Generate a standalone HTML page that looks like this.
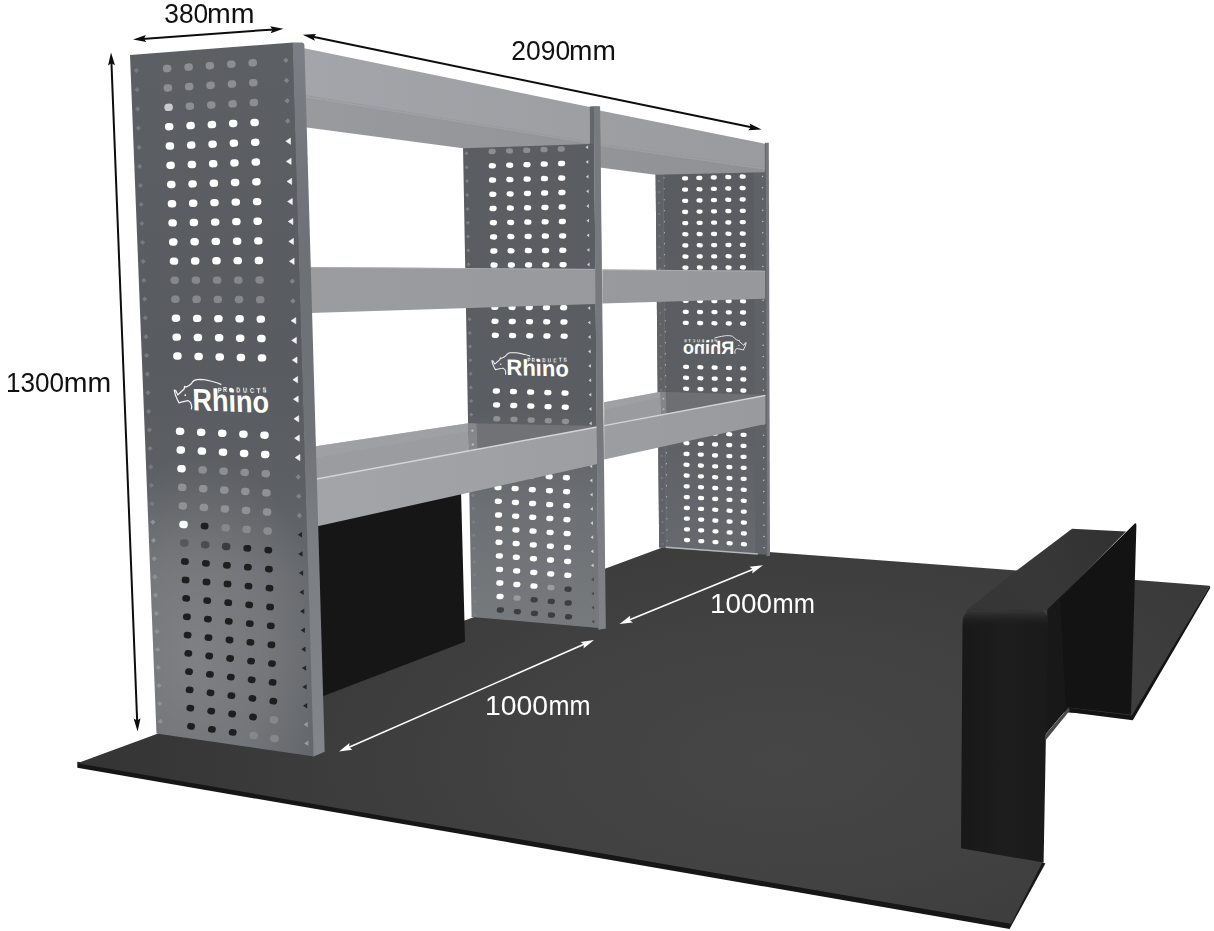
<!DOCTYPE html>
<html lang="en"><head><meta charset="utf-8"><title>Van shelving dimensions</title>
<style>
html,body{margin:0;padding:0;background:#ffffff;}
body{width:1214px;height:931px;overflow:hidden;font-family:"Liberation Sans",sans-serif;}
svg{display:block;font-family:"Liberation Sans",sans-serif;}
</style></head><body>
<svg width="1214" height="931" viewBox="0 0 1214 931">
<defs>
<filter id="fGray" x="-5%" y="-20%" width="110%" height="140%" color-interpolation-filters="sRGB"><feColorMatrix type="saturate" values="0"/></filter>
<radialGradient id="gFloor" gradientUnits="userSpaceOnUse" cx="780" cy="760" r="700" gradientTransform="translate(780 760) scale(1 0.5) translate(-780 -760)">
 <stop offset="0" stop-color="#464646"/><stop offset="0.35" stop-color="#424242"/><stop offset="0.7" stop-color="#3b3b3b"/><stop offset="1" stop-color="#343434"/>
</radialGradient>
<linearGradient id="gLeftPanel" gradientUnits="userSpaceOnUse" x1="0" y1="50" x2="0" y2="750">
 <stop offset="0" stop-color="#5c5f64"/><stop offset="0.45" stop-color="#585b5f"/><stop offset="0.62" stop-color="#5c5f63"/><stop offset="0.75" stop-color="#65686c"/><stop offset="1" stop-color="#64676b"/>
</linearGradient>
<radialGradient id="gLeftGlow" gradientUnits="userSpaceOnUse" cx="195" cy="655" r="200" gradientTransform="translate(195 655) scale(0.66 1) translate(-195 -655)">
 <stop offset="0" stop-color="#ffffff" stop-opacity="0.17"/><stop offset="0.55" stop-color="#ffffff" stop-opacity="0.10"/><stop offset="1" stop-color="#ffffff" stop-opacity="0"/>
</radialGradient>
<linearGradient id="gLeftSide" gradientUnits="userSpaceOnUse" x1="0" y1="50" x2="0" y2="750">
 <stop offset="0" stop-color="#7b7e84"/><stop offset="0.3" stop-color="#6d7075"/><stop offset="0.55" stop-color="#6f7277"/><stop offset="0.7" stop-color="#7b7e83"/><stop offset="1" stop-color="#828589"/>
</linearGradient>
<linearGradient id="gMidPanel" gradientUnits="userSpaceOnUse" x1="0" y1="148" x2="0" y2="625">
 <stop offset="0" stop-color="#5a5d61"/><stop offset="0.55" stop-color="#5a5d61"/><stop offset="0.75" stop-color="#6c6f73"/><stop offset="1" stop-color="#777a7d"/>
</linearGradient>
<linearGradient id="gRightPanel" gradientUnits="userSpaceOnUse" x1="0" y1="172" x2="0" y2="555">
 <stop offset="0" stop-color="#595c60"/><stop offset="0.6" stop-color="#5b5e62"/><stop offset="1" stop-color="#66696d"/>
</linearGradient>
<linearGradient id="gShelfTop" gradientUnits="userSpaceOnUse" x1="305" y1="0" x2="765" y2="0">
 <stop offset="0" stop-color="#a3a5aa"/><stop offset="0.6" stop-color="#9d9fa3"/><stop offset="1" stop-color="#999b9f"/>
</linearGradient>
<linearGradient id="gShelfUnder" gradientUnits="userSpaceOnUse" x1="305" y1="0" x2="765" y2="0">
 <stop offset="0" stop-color="#989a9e"/><stop offset="1" stop-color="#8f9195"/>
</linearGradient>
<linearGradient id="gLip" gradientUnits="userSpaceOnUse" x1="305" y1="0" x2="765" y2="0">
 <stop offset="0" stop-color="#a3a5a9"/><stop offset="1" stop-color="#989a9e"/>
</linearGradient>
<linearGradient id="gMid" gradientUnits="userSpaceOnUse" x1="305" y1="0" x2="765" y2="0">
 <stop offset="0" stop-color="#9a9ca0"/><stop offset="1" stop-color="#96989c"/>
</linearGradient>
<linearGradient id="gTrayL" gradientUnits="userSpaceOnUse" x1="316" y1="0" x2="597" y2="0">
 <stop offset="0" stop-color="#9b9da1"/><stop offset="0.5" stop-color="#989a9e"/><stop offset="0.56" stop-color="#7b7d81"/><stop offset="1" stop-color="#6c6e72"/>
</linearGradient>
<linearGradient id="gTrayR" gradientUnits="userSpaceOnUse" x1="604" y1="0" x2="765" y2="0">
 <stop offset="0" stop-color="#9a9ca0"/><stop offset="0.33" stop-color="#97999d"/><stop offset="0.38" stop-color="#7a7c80"/><stop offset="1" stop-color="#696b6f"/>
</linearGradient>
<linearGradient id="gBoxTop" gradientUnits="userSpaceOnUse" x1="970" y1="610" x2="1120" y2="530">
 <stop offset="0" stop-color="#363636"/><stop offset="0.5" stop-color="#373737"/><stop offset="1" stop-color="#313131"/>
</linearGradient>
<linearGradient id="gBoxBend" gradientUnits="userSpaceOnUse" x1="0" y1="609" x2="0" y2="627">
 <stop offset="0" stop-color="#3c3c3c" stop-opacity="1"/><stop offset="0.35" stop-color="#2c2c2c" stop-opacity="0.85"/><stop offset="1" stop-color="#1c1c1c" stop-opacity="0"/>
</linearGradient>
<linearGradient id="gBoxFront" gradientUnits="userSpaceOnUse" x1="962" y1="0" x2="1048" y2="0">
 <stop offset="0" stop-color="#181818"/><stop offset="0.5" stop-color="#1d1d1d"/><stop offset="1" stop-color="#1a1a1a"/>
</linearGradient>
</defs>
<rect width="1214" height="931" fill="#ffffff"/>
<polygon points="77.3,761.8 77.3,767.8 1009.6,928.9 1011.2,920.8" fill="#161616" />
<polygon points="1008.2,923.8 1009.6,928.9 1045.4,863.4 1040.3,861.4" fill="#181818" />
<polygon points="77.3,763.3 670.5,544.6 1017.0,570.5 1050.0,600.0 1044.8,736.0 1042.3,862.4 1011.2,923.8" fill="url(#gFloor)" />
<polygon points="1120.0,578.7 1209.7,585.8 1133.2,716.5 1060.0,712.0" fill="url(#gFloor)" />
<polygon points="1066.0,707.6 1131.8,715.4 1209.7,585.8 1210.3,587.8 1132.8,720.2 1064.0,711.6" fill="#141414" />
<polygon points="240.0,540.0 318.4,520.0 461.0,490.0 465.0,641.8 323.4,696.0 245.0,726.0" fill="#161616" />
<polygon points="655.6,172.5 765.6,170.0 766.8,554.6 659.2,547.6" fill="url(#gRightPanel)" />
<polygon points="655.6,172.5 662.6,172.3 666.2,547.8 659.2,547.6" fill="#5f6266" />
<polygon points="753.6,171.0 765.6,170.0 766.8,554.6 755.6,553.6" fill="#5f6266" />
<line x1="663.9" y1="177.0" x2="667.0" y2="547.0" stroke="#c4c6c8" stroke-width="1.0" stroke-dasharray="1.4 9.6"/>
<line x1="663.2" y1="173.0" x2="666.3" y2="547.0" stroke="#6d7074" stroke-width="0.8" />
<circle cx="658.9" cy="181.0" r="0.95" fill="#7b7e82"/>
<circle cx="762.6" cy="176.5" r="0.8" fill="#bfc1c3"/>
<circle cx="659.0" cy="192.0" r="0.95" fill="#7b7e82"/>
<circle cx="762.6" cy="187.8" r="0.8" fill="#bfc1c3"/>
<circle cx="659.1" cy="203.0" r="0.95" fill="#7b7e82"/>
<circle cx="762.7" cy="199.0" r="0.8" fill="#bfc1c3"/>
<circle cx="659.2" cy="214.0" r="0.95" fill="#7b7e82"/>
<circle cx="762.7" cy="210.2" r="0.8" fill="#bfc1c3"/>
<circle cx="659.3" cy="225.0" r="0.95" fill="#7b7e82"/>
<circle cx="762.8" cy="221.5" r="0.8" fill="#bfc1c3"/>
<circle cx="659.5" cy="236.0" r="0.95" fill="#7b7e82"/>
<circle cx="762.8" cy="232.8" r="0.8" fill="#bfc1c3"/>
<circle cx="659.6" cy="247.0" r="0.95" fill="#7b7e82"/>
<circle cx="762.9" cy="244.0" r="0.8" fill="#bfc1c3"/>
<circle cx="659.7" cy="258.0" r="0.95" fill="#7b7e82"/>
<circle cx="762.9" cy="255.2" r="0.8" fill="#bfc1c3"/>
<circle cx="659.8" cy="269.0" r="0.95" fill="#7b7e82"/>
<circle cx="762.9" cy="266.5" r="0.8" fill="#bfc1c3"/>
<circle cx="659.9" cy="280.0" r="0.95" fill="#7b7e82"/>
<circle cx="763.0" cy="277.8" r="0.8" fill="#bfc1c3"/>
<circle cx="660.0" cy="291.0" r="0.95" fill="#7b7e82"/>
<circle cx="763.0" cy="289.0" r="0.8" fill="#bfc1c3"/>
<circle cx="660.1" cy="302.0" r="0.95" fill="#7b7e82"/>
<circle cx="763.1" cy="300.2" r="0.8" fill="#bfc1c3"/>
<circle cx="660.2" cy="313.0" r="0.95" fill="#7b7e82"/>
<circle cx="763.1" cy="311.5" r="0.8" fill="#bfc1c3"/>
<circle cx="660.4" cy="324.0" r="0.95" fill="#7b7e82"/>
<circle cx="763.2" cy="322.8" r="0.8" fill="#bfc1c3"/>
<circle cx="660.5" cy="335.0" r="0.95" fill="#7b7e82"/>
<circle cx="763.2" cy="334.0" r="0.8" fill="#bfc1c3"/>
<circle cx="660.6" cy="346.0" r="0.95" fill="#7b7e82"/>
<circle cx="763.2" cy="345.2" r="0.8" fill="#bfc1c3"/>
<circle cx="660.7" cy="357.0" r="0.95" fill="#7b7e82"/>
<circle cx="763.3" cy="356.5" r="0.8" fill="#bfc1c3"/>
<circle cx="660.8" cy="368.0" r="0.95" fill="#7b7e82"/>
<circle cx="763.3" cy="367.8" r="0.8" fill="#bfc1c3"/>
<circle cx="660.9" cy="379.0" r="0.95" fill="#7b7e82"/>
<circle cx="763.4" cy="379.0" r="0.8" fill="#bfc1c3"/>
<circle cx="661.0" cy="390.0" r="0.95" fill="#7b7e82"/>
<circle cx="763.4" cy="390.2" r="0.8" fill="#bfc1c3"/>
<circle cx="661.1" cy="401.0" r="0.95" fill="#7b7e82"/>
<circle cx="763.4" cy="401.5" r="0.8" fill="#bfc1c3"/>
<circle cx="661.3" cy="412.0" r="0.95" fill="#7b7e82"/>
<circle cx="763.5" cy="412.8" r="0.8" fill="#bfc1c3"/>
<circle cx="661.4" cy="423.0" r="0.95" fill="#7b7e82"/>
<circle cx="763.5" cy="424.0" r="0.8" fill="#bfc1c3"/>
<circle cx="661.5" cy="434.0" r="0.95" fill="#7b7e82"/>
<circle cx="763.6" cy="435.2" r="0.8" fill="#bfc1c3"/>
<circle cx="661.6" cy="445.0" r="0.95" fill="#7b7e82"/>
<circle cx="763.6" cy="446.5" r="0.8" fill="#bfc1c3"/>
<circle cx="661.7" cy="456.0" r="0.95" fill="#7b7e82"/>
<circle cx="763.7" cy="457.8" r="0.8" fill="#bfc1c3"/>
<circle cx="661.8" cy="467.0" r="0.95" fill="#7b7e82"/>
<circle cx="763.7" cy="469.0" r="0.8" fill="#bfc1c3"/>
<circle cx="661.9" cy="478.0" r="0.95" fill="#7b7e82"/>
<circle cx="763.7" cy="480.2" r="0.8" fill="#bfc1c3"/>
<circle cx="662.0" cy="489.0" r="0.95" fill="#7b7e82"/>
<circle cx="763.8" cy="491.5" r="0.8" fill="#bfc1c3"/>
<circle cx="662.2" cy="500.0" r="0.95" fill="#7b7e82"/>
<circle cx="763.8" cy="502.8" r="0.8" fill="#bfc1c3"/>
<circle cx="662.3" cy="511.0" r="0.95" fill="#7b7e82"/>
<circle cx="763.9" cy="514.0" r="0.8" fill="#bfc1c3"/>
<circle cx="662.4" cy="522.0" r="0.95" fill="#7b7e82"/>
<circle cx="763.9" cy="525.2" r="0.8" fill="#bfc1c3"/>
<circle cx="662.5" cy="533.0" r="0.95" fill="#7b7e82"/>
<circle cx="764.0" cy="536.5" r="0.8" fill="#bfc1c3"/>
<circle cx="662.6" cy="544.0" r="0.95" fill="#7b7e82"/>
<circle cx="764.0" cy="547.8" r="0.8" fill="#bfc1c3"/>
<line x1="665.8" y1="547.3" x2="757.8" y2="554.0" stroke="#b4b6b9" stroke-width="1.6" />
<rect x="681.9" y="176.2" width="6.3" height="4.3" rx="2.1" fill="#ffffff" transform="rotate(2.0 685.0 178.4)" />
<rect x="696.2" y="175.8" width="6.3" height="4.3" rx="2.1" fill="#ffffff" transform="rotate(2.0 699.4 177.9)" />
<rect x="710.6" y="175.3" width="6.3" height="4.3" rx="2.1" fill="#ffffff" transform="rotate(2.0 713.8 177.5)" />
<rect x="725.1" y="174.9" width="6.3" height="4.3" rx="2.1" fill="#ffffff" transform="rotate(2.0 728.2 177.1)" />
<rect x="739.5" y="174.4" width="6.3" height="4.3" rx="2.1" fill="#ffffff" transform="rotate(2.0 742.6 176.6)" />
<rect x="681.9" y="187.5" width="6.3" height="4.3" rx="2.1" fill="#ffffff" transform="rotate(2.0 685.1 189.6)" />
<rect x="696.3" y="187.1" width="6.3" height="4.3" rx="2.1" fill="#ffffff" transform="rotate(2.0 699.5 189.2)" />
<rect x="710.7" y="186.7" width="6.3" height="4.3" rx="2.1" fill="#ffffff" transform="rotate(2.0 713.8 188.8)" />
<rect x="725.1" y="186.3" width="6.3" height="4.3" rx="2.1" fill="#ffffff" transform="rotate(2.0 728.2 188.4)" />
<rect x="739.5" y="185.9" width="6.3" height="4.3" rx="2.1" fill="#ffffff" transform="rotate(2.0 742.6 188.0)" />
<rect x="682.0" y="198.7" width="6.3" height="4.3" rx="2.1" fill="#ffffff" transform="rotate(2.0 685.1 200.8)" />
<rect x="696.4" y="198.3" width="6.3" height="4.3" rx="2.1" fill="#ffffff" transform="rotate(2.0 699.5 200.5)" />
<rect x="710.8" y="198.0" width="6.3" height="4.3" rx="2.1" fill="#ffffff" transform="rotate(2.0 713.9 200.1)" />
<rect x="725.1" y="197.6" width="6.3" height="4.3" rx="2.1" fill="#ffffff" transform="rotate(2.0 728.3 199.8)" />
<rect x="739.5" y="197.3" width="6.3" height="4.3" rx="2.1" fill="#ffffff" transform="rotate(2.0 742.7 199.4)" />
<rect x="682.0" y="209.8" width="6.3" height="4.3" rx="2.1" fill="#ffffff" transform="rotate(2.0 685.2 212.0)" />
<rect x="696.4" y="209.5" width="6.3" height="4.3" rx="2.1" fill="#ffffff" transform="rotate(2.0 699.6 211.7)" />
<rect x="710.8" y="209.2" width="6.3" height="4.3" rx="2.1" fill="#ffffff" transform="rotate(2.0 714.0 211.4)" />
<rect x="725.2" y="208.9" width="6.3" height="4.3" rx="2.1" fill="#ffffff" transform="rotate(2.0 728.3 211.1)" />
<rect x="739.6" y="208.7" width="6.3" height="4.3" rx="2.1" fill="#ffffff" transform="rotate(2.0 742.7 210.8)" />
<rect x="682.1" y="221.0" width="6.3" height="4.3" rx="2.1" fill="#ffffff" transform="rotate(2.0 685.2 223.1)" />
<rect x="696.5" y="220.7" width="6.3" height="4.3" rx="2.1" fill="#ffffff" transform="rotate(2.0 699.6 222.9)" />
<rect x="710.9" y="220.5" width="6.3" height="4.3" rx="2.1" fill="#ffffff" transform="rotate(2.0 714.0 222.7)" />
<rect x="725.2" y="220.3" width="6.3" height="4.3" rx="2.1" fill="#ffffff" transform="rotate(2.0 728.4 222.4)" />
<rect x="739.6" y="220.0" width="6.3" height="4.3" rx="2.1" fill="#ffffff" transform="rotate(2.0 742.8 222.2)" />
<rect x="682.2" y="232.1" width="6.3" height="4.3" rx="2.1" fill="#ffffff" transform="rotate(2.0 685.3 234.3)" />
<rect x="696.5" y="231.9" width="6.3" height="4.3" rx="2.1" fill="#ffffff" transform="rotate(2.0 699.7 234.1)" />
<rect x="710.9" y="231.8" width="6.3" height="4.3" rx="2.1" fill="#ffffff" transform="rotate(2.0 714.0 233.9)" />
<rect x="725.3" y="231.6" width="6.3" height="4.3" rx="2.1" fill="#ffffff" transform="rotate(2.0 728.4 233.7)" />
<rect x="739.6" y="231.4" width="6.3" height="4.3" rx="2.1" fill="#ffffff" transform="rotate(2.0 742.8 233.5)" />
<rect x="682.2" y="243.3" width="6.3" height="4.3" rx="2.1" fill="#ffffff" transform="rotate(2.0 685.4 245.4)" />
<rect x="696.6" y="243.1" width="6.3" height="4.3" rx="2.1" fill="#ffffff" transform="rotate(2.0 699.7 245.3)" />
<rect x="711.0" y="243.0" width="6.3" height="4.3" rx="2.1" fill="#ffffff" transform="rotate(2.0 714.1 245.1)" />
<rect x="725.3" y="242.8" width="6.3" height="4.3" rx="2.1" fill="#ffffff" transform="rotate(2.0 728.5 245.0)" />
<rect x="739.7" y="242.7" width="6.3" height="4.3" rx="2.1" fill="#ffffff" transform="rotate(2.0 742.8 244.9)" />
<rect x="682.3" y="254.4" width="6.3" height="4.3" rx="2.1" fill="#ffffff" transform="rotate(2.0 685.4 256.5)" />
<rect x="696.6" y="254.3" width="6.3" height="4.3" rx="2.1" fill="#ffffff" transform="rotate(2.0 699.8 256.4)" />
<rect x="711.0" y="254.2" width="6.3" height="4.3" rx="2.1" fill="#ffffff" transform="rotate(2.0 714.1 256.3)" />
<rect x="725.4" y="254.1" width="6.3" height="4.3" rx="2.1" fill="#ffffff" transform="rotate(2.0 728.5 256.3)" />
<rect x="739.7" y="254.0" width="6.3" height="4.3" rx="2.1" fill="#ffffff" transform="rotate(2.0 742.9 256.2)" />
<rect x="682.3" y="265.5" width="6.3" height="4.3" rx="2.1" fill="#ffffff" transform="rotate(2.0 685.5 267.6)" />
<rect x="696.7" y="265.4" width="6.3" height="4.3" rx="2.1" fill="#ffffff" transform="rotate(2.0 699.8 267.6)" />
<rect x="711.1" y="265.4" width="6.3" height="4.3" rx="2.1" fill="#ffffff" transform="rotate(2.0 714.2 267.5)" />
<rect x="725.4" y="265.4" width="6.3" height="4.3" rx="2.1" fill="#ffffff" transform="rotate(2.0 728.6 267.5)" />
<rect x="739.8" y="265.3" width="6.3" height="4.3" rx="2.1" fill="#ffffff" transform="rotate(2.0 742.9 267.5)" />
<rect x="682.4" y="276.6" width="6.3" height="4.3" rx="2.1" fill="#ffffff" transform="rotate(2.0 685.5 278.7)" />
<rect x="696.7" y="276.6" width="6.3" height="4.3" rx="2.1" fill="#ffffff" transform="rotate(2.0 699.9 278.7)" />
<rect x="711.1" y="276.6" width="6.3" height="4.3" rx="2.1" fill="#ffffff" transform="rotate(2.0 714.2 278.7)" />
<rect x="725.5" y="276.6" width="6.3" height="4.3" rx="2.1" fill="#ffffff" transform="rotate(2.0 728.6 278.7)" />
<rect x="739.8" y="276.6" width="6.3" height="4.3" rx="2.1" fill="#ffffff" transform="rotate(2.0 743.0 278.7)" />
<rect x="682.5" y="287.6" width="6.3" height="4.3" rx="2.1" fill="#ffffff" transform="rotate(2.0 685.6 289.8)" />
<rect x="696.8" y="287.7" width="6.3" height="4.3" rx="2.1" fill="#ffffff" transform="rotate(2.0 700.0 289.8)" />
<rect x="711.1" y="287.7" width="6.3" height="4.3" rx="2.1" fill="#ffffff" transform="rotate(2.0 714.3 289.9)" />
<rect x="725.5" y="287.8" width="6.3" height="4.3" rx="2.1" fill="#ffffff" transform="rotate(2.0 728.6 290.0)" />
<rect x="739.8" y="287.9" width="6.3" height="4.3" rx="2.1" fill="#ffffff" transform="rotate(2.0 743.0 290.0)" />
<rect x="682.5" y="298.7" width="6.3" height="4.3" rx="2.1" fill="#ffffff" transform="rotate(2.0 685.7 300.8)" />
<rect x="696.9" y="298.8" width="6.3" height="4.3" rx="2.1" fill="#ffffff" transform="rotate(2.0 700.0 300.9)" />
<rect x="711.2" y="298.9" width="6.3" height="4.3" rx="2.1" fill="#ffffff" transform="rotate(2.0 714.3 301.0)" />
<rect x="725.5" y="299.0" width="6.3" height="4.3" rx="2.1" fill="#ffffff" transform="rotate(2.0 728.7 301.1)" />
<rect x="739.9" y="299.1" width="6.3" height="4.3" rx="2.1" fill="#ffffff" transform="rotate(2.0 743.0 301.3)" />
<rect x="682.6" y="309.7" width="6.3" height="4.3" rx="2.1" fill="#ffffff" transform="rotate(2.0 685.7 311.9)" />
<rect x="696.9" y="309.9" width="6.3" height="4.3" rx="2.1" fill="#ffffff" transform="rotate(2.0 700.1 312.0)" />
<rect x="711.3" y="310.0" width="6.3" height="4.3" rx="2.1" fill="#ffffff" transform="rotate(2.0 714.4 312.2)" />
<rect x="725.6" y="310.2" width="6.3" height="4.3" rx="2.1" fill="#ffffff" transform="rotate(2.0 728.7 312.3)" />
<rect x="739.9" y="310.3" width="6.3" height="4.3" rx="2.1" fill="#ffffff" transform="rotate(2.0 743.1 312.5)" />
<rect x="682.6" y="320.7" width="6.3" height="4.3" rx="2.1" fill="#ffffff" transform="rotate(2.0 685.8 322.9)" />
<rect x="697.0" y="320.9" width="6.3" height="4.3" rx="2.1" fill="#ffffff" transform="rotate(2.0 700.1 323.1)" />
<rect x="711.3" y="321.1" width="6.3" height="4.3" rx="2.1" fill="#ffffff" transform="rotate(2.0 714.5 323.3)" />
<rect x="725.6" y="321.3" width="6.3" height="4.3" rx="2.1" fill="#ffffff" transform="rotate(2.0 728.8 323.5)" />
<rect x="740.0" y="321.5" width="6.3" height="4.3" rx="2.1" fill="#ffffff" transform="rotate(2.0 743.1 323.7)" />
<rect x="682.9" y="364.7" width="6.3" height="4.3" rx="2.1" fill="#ffffff" transform="rotate(2.0 686.0 366.8)" />
<rect x="697.2" y="365.1" width="6.3" height="4.3" rx="2.1" fill="#ffffff" transform="rotate(2.0 700.3 367.2)" />
<rect x="711.5" y="365.4" width="6.3" height="4.3" rx="2.1" fill="#ffffff" transform="rotate(2.0 714.6 367.6)" />
<rect x="725.8" y="365.8" width="6.3" height="4.3" rx="2.1" fill="#ffffff" transform="rotate(2.0 729.0 368.0)" />
<rect x="740.1" y="366.2" width="6.3" height="4.3" rx="2.1" fill="#ffffff" transform="rotate(2.0 743.3 368.4)" />
<rect x="682.9" y="375.6" width="6.3" height="4.3" rx="2.1" fill="#ffffff" transform="rotate(2.0 686.1 377.8)" />
<rect x="697.2" y="376.1" width="6.3" height="4.3" rx="2.1" fill="#ffffff" transform="rotate(2.0 700.4 378.2)" />
<rect x="711.6" y="376.5" width="6.3" height="4.3" rx="2.1" fill="#ffffff" transform="rotate(2.0 714.7 378.6)" />
<rect x="725.9" y="376.9" width="6.3" height="4.3" rx="2.1" fill="#ffffff" transform="rotate(2.0 729.0 379.1)" />
<rect x="740.2" y="377.3" width="6.3" height="4.3" rx="2.1" fill="#ffffff" transform="rotate(2.0 743.3 379.5)" />
<rect x="683.0" y="386.6" width="6.3" height="4.3" rx="2.1" fill="#ffffff" transform="rotate(2.0 686.2 388.7)" />
<rect x="697.3" y="387.0" width="6.3" height="4.3" rx="2.1" fill="#ffffff" transform="rotate(2.0 700.5 389.2)" />
<rect x="711.6" y="387.5" width="6.3" height="4.3" rx="2.1" fill="#ffffff" transform="rotate(2.0 714.8 389.6)" />
<rect x="725.9" y="388.0" width="6.3" height="4.3" rx="2.1" fill="#ffffff" transform="rotate(2.0 729.0 390.1)" />
<rect x="740.2" y="388.4" width="6.3" height="4.3" rx="2.1" fill="#ffffff" transform="rotate(2.0 743.3 390.6)" />
<rect x="683.1" y="397.5" width="6.3" height="4.3" rx="2.1" fill="#ffffff" transform="rotate(2.0 686.2 399.6)" />
<rect x="697.4" y="398.0" width="6.3" height="4.3" rx="2.1" fill="#ffffff" transform="rotate(2.0 700.5 400.1)" />
<rect x="711.6" y="398.5" width="6.3" height="4.3" rx="2.1" fill="#ffffff" transform="rotate(2.0 714.8 400.7)" />
<rect x="725.9" y="399.0" width="6.3" height="4.3" rx="2.1" fill="#ffffff" transform="rotate(2.0 729.1 401.2)" />
<rect x="740.2" y="399.5" width="6.3" height="4.3" rx="2.1" fill="#ffffff" transform="rotate(2.0 743.4 401.7)" />
<rect x="683.1" y="408.4" width="6.3" height="4.3" rx="2.1" fill="#ffffff" transform="rotate(2.0 686.3 410.5)" />
<rect x="697.4" y="408.9" width="6.3" height="4.3" rx="2.1" fill="#ffffff" transform="rotate(2.0 700.6 411.1)" />
<rect x="711.7" y="409.5" width="6.3" height="4.3" rx="2.1" fill="#ffffff" transform="rotate(2.0 714.8 411.6)" />
<rect x="726.0" y="410.0" width="6.3" height="4.3" rx="2.1" fill="#ffffff" transform="rotate(2.0 729.1 412.2)" />
<rect x="740.3" y="410.6" width="6.3" height="4.3" rx="2.1" fill="#ffffff" transform="rotate(2.0 743.4 412.8)" />
<rect x="683.2" y="419.2" width="6.3" height="4.3" rx="2.1" fill="#ffffff" transform="rotate(2.0 686.3 421.4)" />
<rect x="697.5" y="419.9" width="6.3" height="4.3" rx="2.1" fill="#ffffff" transform="rotate(2.0 700.6 422.0)" />
<rect x="711.8" y="420.5" width="6.3" height="4.3" rx="2.1" fill="#ffffff" transform="rotate(2.0 714.9 422.6)" />
<rect x="726.0" y="421.1" width="6.3" height="4.3" rx="2.1" fill="#ffffff" transform="rotate(2.0 729.2 423.2)" />
<rect x="740.3" y="421.7" width="6.3" height="4.3" rx="2.1" fill="#ffffff" transform="rotate(2.0 743.5 423.8)" />
<rect x="683.2" y="430.1" width="6.3" height="4.3" rx="2.1" fill="#ffffff" transform="rotate(2.0 686.4 432.3)" />
<rect x="697.5" y="430.8" width="6.3" height="4.3" rx="2.1" fill="#ffffff" transform="rotate(2.0 700.7 432.9)" />
<rect x="711.8" y="431.4" width="6.3" height="4.3" rx="2.1" fill="#ffffff" transform="rotate(2.0 715.0 433.6)" />
<rect x="726.1" y="432.1" width="6.3" height="4.3" rx="2.1" fill="#ffffff" transform="rotate(2.0 729.2 434.2)" />
<rect x="740.4" y="432.7" width="6.3" height="4.3" rx="2.1" fill="#ffffff" transform="rotate(2.0 743.5 434.9)" />
<rect x="683.3" y="441.0" width="6.3" height="4.3" rx="2.1" fill="#ffffff" transform="rotate(2.0 686.5 443.1)" />
<rect x="697.6" y="441.7" width="6.3" height="4.3" rx="2.1" fill="#ffffff" transform="rotate(2.0 700.7 443.8)" />
<rect x="711.9" y="442.3" width="6.3" height="4.3" rx="2.1" fill="#ffffff" transform="rotate(2.0 715.0 444.5)" />
<rect x="726.1" y="443.0" width="6.3" height="4.3" rx="2.1" fill="#ffffff" transform="rotate(2.0 729.3 445.2)" />
<rect x="740.4" y="443.7" width="6.3" height="4.3" rx="2.1" fill="#ffffff" transform="rotate(2.0 743.5 445.9)" />
<rect x="683.4" y="451.8" width="6.3" height="4.3" rx="2.1" fill="#ffffff" transform="rotate(2.0 686.5 454.0)" />
<rect x="697.6" y="452.5" width="6.3" height="4.3" rx="2.1" fill="#ffffff" transform="rotate(2.0 700.8 454.7)" />
<rect x="711.9" y="453.3" width="6.3" height="4.3" rx="2.1" fill="#ffffff" transform="rotate(2.0 715.0 455.4)" />
<rect x="726.2" y="454.0" width="6.3" height="4.3" rx="2.1" fill="#ffffff" transform="rotate(2.0 729.3 456.1)" />
<rect x="740.4" y="454.7" width="6.3" height="4.3" rx="2.1" fill="#ffffff" transform="rotate(2.0 743.6 456.9)" />
<rect x="683.4" y="462.6" width="6.3" height="4.3" rx="2.1" fill="#ffffff" transform="rotate(2.0 686.6 464.8)" />
<rect x="697.7" y="463.4" width="6.3" height="4.3" rx="2.1" fill="#ffffff" transform="rotate(2.0 700.8 465.5)" />
<rect x="712.0" y="464.2" width="6.3" height="4.3" rx="2.1" fill="#ffffff" transform="rotate(2.0 715.1 466.3)" />
<rect x="726.2" y="464.9" width="6.3" height="4.3" rx="2.1" fill="#ffffff" transform="rotate(2.0 729.4 467.1)" />
<rect x="740.5" y="465.7" width="6.3" height="4.3" rx="2.1" fill="#ffffff" transform="rotate(2.0 743.6 467.9)" />
<rect x="683.5" y="473.4" width="6.3" height="4.3" rx="2.1" fill="#ffffff" transform="rotate(2.0 686.6 475.6)" />
<rect x="697.7" y="474.2" width="6.3" height="4.3" rx="2.1" fill="#ffffff" transform="rotate(2.0 700.9 476.4)" />
<rect x="712.0" y="475.1" width="6.3" height="4.3" rx="2.1" fill="#ffffff" transform="rotate(2.0 715.1 477.2)" />
<rect x="726.3" y="475.9" width="6.3" height="4.3" rx="2.1" fill="#ffffff" transform="rotate(2.0 729.4 478.0)" />
<rect x="740.5" y="476.7" width="6.3" height="4.3" rx="2.1" fill="#ffffff" transform="rotate(2.0 743.7 478.8)" />
<rect x="683.5" y="484.2" width="6.3" height="4.3" rx="2.1" fill="#ffffff" transform="rotate(2.0 686.7 486.4)" />
<rect x="697.8" y="485.1" width="6.3" height="4.3" rx="2.1" fill="#ffffff" transform="rotate(2.0 700.9 487.2)" />
<rect x="712.1" y="485.9" width="6.3" height="4.3" rx="2.1" fill="#ffffff" transform="rotate(2.0 715.2 488.1)" />
<rect x="726.3" y="486.8" width="6.3" height="4.3" rx="2.1" fill="#ffffff" transform="rotate(2.0 729.5 488.9)" />
<rect x="740.6" y="487.6" width="6.3" height="4.3" rx="2.1" fill="#ffffff" transform="rotate(2.0 743.7 489.8)" />
<rect x="683.6" y="495.0" width="6.3" height="4.3" rx="2.1" fill="#ffffff" transform="rotate(2.0 686.8 497.1)" />
<rect x="697.9" y="495.9" width="6.3" height="4.3" rx="2.1" fill="#ffffff" transform="rotate(2.0 701.0 498.0)" />
<rect x="712.1" y="496.8" width="6.3" height="4.3" rx="2.1" fill="#ffffff" transform="rotate(2.0 715.2 498.9)" />
<rect x="726.3" y="497.7" width="6.3" height="4.3" rx="2.1" fill="#ffffff" transform="rotate(2.0 729.5 499.8)" />
<rect x="740.6" y="498.6" width="6.3" height="4.3" rx="2.1" fill="#ffffff" transform="rotate(2.0 743.7 500.7)" />
<rect x="683.7" y="505.8" width="6.3" height="4.3" rx="2.1" fill="#ffffff" transform="rotate(2.0 686.8 507.9)" />
<rect x="697.9" y="506.7" width="6.3" height="4.3" rx="2.1" fill="#ffffff" transform="rotate(2.0 701.1 508.8)" />
<rect x="712.1" y="507.6" width="6.3" height="4.3" rx="2.1" fill="#ffffff" transform="rotate(2.0 715.3 509.8)" />
<rect x="726.4" y="508.6" width="6.3" height="4.3" rx="2.1" fill="#ffffff" transform="rotate(2.0 729.5 510.7)" />
<rect x="740.6" y="509.5" width="6.3" height="4.3" rx="2.1" fill="#ffffff" transform="rotate(2.0 743.8 511.6)" />
<rect x="683.7" y="516.5" width="6.3" height="4.3" rx="2.1" fill="#ffffff" transform="rotate(2.0 686.9 518.7)" />
<rect x="698.0" y="517.5" width="6.3" height="4.3" rx="2.1" fill="#ffffff" transform="rotate(2.0 701.1 519.6)" />
<rect x="712.2" y="518.4" width="6.3" height="4.3" rx="2.1" fill="#ffffff" transform="rotate(2.0 715.3 520.6)" />
<rect x="726.4" y="519.4" width="6.3" height="4.3" rx="2.1" fill="#ffffff" transform="rotate(2.0 729.6 521.6)" />
<rect x="740.7" y="520.4" width="6.3" height="4.3" rx="2.1" fill="#ffffff" transform="rotate(2.0 743.8 522.5)" />
<rect x="683.8" y="527.2" width="6.3" height="4.3" rx="2.1" fill="#ffffff" transform="rotate(2.0 686.9 529.4)" />
<rect x="698.0" y="528.2" width="6.3" height="4.3" rx="2.1" fill="#ffffff" transform="rotate(2.0 701.2 530.4)" />
<rect x="712.3" y="529.2" width="6.3" height="4.3" rx="2.1" fill="#ffffff" transform="rotate(2.0 715.4 531.4)" />
<rect x="726.5" y="530.3" width="6.3" height="4.3" rx="2.1" fill="#ffffff" transform="rotate(2.0 729.6 532.4)" />
<rect x="740.7" y="531.3" width="6.3" height="4.3" rx="2.1" fill="#ffffff" transform="rotate(2.0 743.9 533.4)" />
<rect x="683.9" y="537.9" width="6.3" height="4.3" rx="2.1" fill="#ffffff" transform="rotate(2.0 687.0 540.1)" />
<rect x="698.1" y="539.0" width="6.3" height="4.3" rx="2.1" fill="#ffffff" transform="rotate(2.0 701.2 541.1)" />
<rect x="712.3" y="540.0" width="6.3" height="4.3" rx="2.1" fill="#ffffff" transform="rotate(2.0 715.5 542.2)" />
<rect x="726.5" y="541.1" width="6.3" height="4.3" rx="2.1" fill="#ffffff" transform="rotate(2.0 729.7 543.2)" />
<rect x="740.8" y="542.1" width="6.3" height="4.3" rx="2.1" fill="#ffffff" transform="rotate(2.0 743.9 544.3)" />
<polygon points="463.0,146.0 594.2,143.0 598.8,627.9 471.6,616.9" fill="url(#gMidPanel)" />
<rect x="488.5" y="148.8" width="7.3" height="5.4" rx="2.6" fill="#8b8d91" transform="rotate(3.0 492.1 151.5)" />
<rect x="505.8" y="148.2" width="7.3" height="5.4" rx="2.6" fill="#8b8d91" transform="rotate(3.0 509.4 150.9)" />
<rect x="523.1" y="147.6" width="7.3" height="5.4" rx="2.6" fill="#8b8d91" transform="rotate(3.0 526.7 150.2)" />
<rect x="540.4" y="146.9" width="7.3" height="5.4" rx="2.6" fill="#8b8d91" transform="rotate(3.0 544.0 149.6)" />
<rect x="557.6" y="146.3" width="7.3" height="5.4" rx="2.6" fill="#8b8d91" transform="rotate(3.0 561.3 149.0)" />
<rect x="488.7" y="163.1" width="7.3" height="5.4" rx="2.6" fill="#ffffff" transform="rotate(3.0 492.3 165.8)" />
<rect x="506.0" y="162.5" width="7.3" height="5.4" rx="2.6" fill="#ffffff" transform="rotate(3.0 509.6 165.2)" />
<rect x="523.3" y="162.0" width="7.3" height="5.4" rx="2.6" fill="#ffffff" transform="rotate(3.0 526.9 164.7)" />
<rect x="540.6" y="161.4" width="7.3" height="5.4" rx="2.6" fill="#ffffff" transform="rotate(3.0 544.2 164.1)" />
<rect x="557.9" y="160.8" width="7.3" height="5.4" rx="2.6" fill="#ffffff" transform="rotate(3.0 561.5 163.5)" />
<rect x="488.9" y="177.4" width="7.3" height="5.4" rx="2.6" fill="#ffffff" transform="rotate(3.0 492.6 180.1)" />
<rect x="506.2" y="176.9" width="7.3" height="5.4" rx="2.6" fill="#ffffff" transform="rotate(3.0 509.9 179.6)" />
<rect x="523.5" y="176.4" width="7.3" height="5.4" rx="2.6" fill="#ffffff" transform="rotate(3.0 527.2 179.1)" />
<rect x="540.8" y="175.9" width="7.3" height="5.4" rx="2.6" fill="#ffffff" transform="rotate(3.0 544.5 178.6)" />
<rect x="558.1" y="175.4" width="7.3" height="5.4" rx="2.6" fill="#ffffff" transform="rotate(3.0 561.7 178.1)" />
<rect x="489.2" y="191.6" width="7.3" height="5.4" rx="2.6" fill="#ffffff" transform="rotate(3.0 492.8 194.3)" />
<rect x="506.5" y="191.2" width="7.3" height="5.4" rx="2.6" fill="#ffffff" transform="rotate(3.0 510.1 193.9)" />
<rect x="523.8" y="190.7" width="7.3" height="5.4" rx="2.6" fill="#ffffff" transform="rotate(3.0 527.4 193.4)" />
<rect x="541.0" y="190.3" width="7.3" height="5.4" rx="2.6" fill="#ffffff" transform="rotate(3.0 544.7 193.0)" />
<rect x="558.3" y="189.8" width="7.3" height="5.4" rx="2.6" fill="#ffffff" transform="rotate(3.0 562.0 192.5)" />
<rect x="489.4" y="205.8" width="7.3" height="5.4" rx="2.6" fill="#ffffff" transform="rotate(3.0 493.1 208.5)" />
<rect x="506.7" y="205.4" width="7.3" height="5.4" rx="2.6" fill="#ffffff" transform="rotate(3.0 510.4 208.1)" />
<rect x="524.0" y="205.1" width="7.3" height="5.4" rx="2.6" fill="#ffffff" transform="rotate(3.0 527.6 207.8)" />
<rect x="541.3" y="204.7" width="7.3" height="5.4" rx="2.6" fill="#ffffff" transform="rotate(3.0 544.9 207.4)" />
<rect x="558.5" y="204.3" width="7.3" height="5.4" rx="2.6" fill="#ffffff" transform="rotate(3.0 562.2 207.0)" />
<rect x="489.7" y="220.0" width="7.3" height="5.4" rx="2.6" fill="#ffffff" transform="rotate(3.0 493.3 222.7)" />
<rect x="507.0" y="219.7" width="7.3" height="5.4" rx="2.6" fill="#ffffff" transform="rotate(3.0 510.6 222.4)" />
<rect x="524.2" y="219.4" width="7.3" height="5.4" rx="2.6" fill="#ffffff" transform="rotate(3.0 527.9 222.1)" />
<rect x="541.5" y="219.1" width="7.3" height="5.4" rx="2.6" fill="#ffffff" transform="rotate(3.0 545.1 221.8)" />
<rect x="558.7" y="218.8" width="7.3" height="5.4" rx="2.6" fill="#ffffff" transform="rotate(3.0 562.4 221.5)" />
<rect x="489.9" y="234.2" width="7.3" height="5.4" rx="2.6" fill="#ffffff" transform="rotate(3.0 493.6 236.9)" />
<rect x="507.2" y="233.9" width="7.3" height="5.4" rx="2.6" fill="#ffffff" transform="rotate(3.0 510.8 236.6)" />
<rect x="524.5" y="233.7" width="7.3" height="5.4" rx="2.6" fill="#ffffff" transform="rotate(3.0 528.1 236.4)" />
<rect x="541.7" y="233.4" width="7.3" height="5.4" rx="2.6" fill="#ffffff" transform="rotate(3.0 545.4 236.1)" />
<rect x="559.0" y="233.2" width="7.3" height="5.4" rx="2.6" fill="#ffffff" transform="rotate(3.0 562.6 235.9)" />
<rect x="490.2" y="248.3" width="7.3" height="5.4" rx="2.6" fill="#ffffff" transform="rotate(3.0 493.8 251.0)" />
<rect x="507.4" y="248.1" width="7.3" height="5.4" rx="2.6" fill="#ffffff" transform="rotate(3.0 511.1 250.8)" />
<rect x="524.7" y="247.9" width="7.3" height="5.4" rx="2.6" fill="#ffffff" transform="rotate(3.0 528.3 250.6)" />
<rect x="541.9" y="247.8" width="7.3" height="5.4" rx="2.6" fill="#ffffff" transform="rotate(3.0 545.6 250.5)" />
<rect x="559.2" y="247.6" width="7.3" height="5.4" rx="2.6" fill="#ffffff" transform="rotate(3.0 562.8 250.3)" />
<rect x="490.4" y="262.4" width="7.3" height="5.4" rx="2.6" fill="#ffffff" transform="rotate(3.0 494.1 265.1)" />
<rect x="507.7" y="262.3" width="7.3" height="5.4" rx="2.6" fill="#ffffff" transform="rotate(3.0 511.3 265.0)" />
<rect x="524.9" y="262.2" width="7.3" height="5.4" rx="2.6" fill="#ffffff" transform="rotate(3.0 528.6 264.9)" />
<rect x="542.2" y="262.1" width="7.3" height="5.4" rx="2.6" fill="#ffffff" transform="rotate(3.0 545.8 264.8)" />
<rect x="559.4" y="262.0" width="7.3" height="5.4" rx="2.6" fill="#ffffff" transform="rotate(3.0 563.0 264.7)" />
<rect x="490.7" y="276.5" width="7.3" height="5.4" rx="2.6" fill="#ffffff" transform="rotate(3.0 494.3 279.2)" />
<rect x="507.9" y="276.5" width="7.3" height="5.4" rx="2.6" fill="#ffffff" transform="rotate(3.0 511.6 279.2)" />
<rect x="525.1" y="276.4" width="7.3" height="5.4" rx="2.6" fill="#ffffff" transform="rotate(3.0 528.8 279.1)" />
<rect x="542.4" y="276.4" width="7.3" height="5.4" rx="2.6" fill="#ffffff" transform="rotate(3.0 546.0 279.1)" />
<rect x="559.6" y="276.3" width="7.3" height="5.4" rx="2.6" fill="#ffffff" transform="rotate(3.0 563.3 279.0)" />
<rect x="490.9" y="290.6" width="7.3" height="5.4" rx="2.6" fill="#ffffff" transform="rotate(3.0 494.6 293.3)" />
<rect x="508.2" y="290.6" width="7.3" height="5.4" rx="2.6" fill="#ffffff" transform="rotate(3.0 511.8 293.3)" />
<rect x="525.4" y="290.6" width="7.3" height="5.4" rx="2.6" fill="#ffffff" transform="rotate(3.0 529.0 293.3)" />
<rect x="542.6" y="290.6" width="7.3" height="5.4" rx="2.6" fill="#ffffff" transform="rotate(3.0 546.3 293.3)" />
<rect x="559.8" y="290.7" width="7.3" height="5.4" rx="2.6" fill="#ffffff" transform="rotate(3.0 563.5 293.4)" />
<rect x="491.2" y="304.6" width="7.3" height="5.4" rx="2.6" fill="#ffffff" transform="rotate(3.0 494.8 307.3)" />
<rect x="508.4" y="304.7" width="7.3" height="5.4" rx="2.6" fill="#ffffff" transform="rotate(3.0 512.0 307.4)" />
<rect x="525.6" y="304.8" width="7.3" height="5.4" rx="2.6" fill="#ffffff" transform="rotate(3.0 529.3 307.5)" />
<rect x="542.8" y="304.9" width="7.3" height="5.4" rx="2.6" fill="#ffffff" transform="rotate(3.0 546.5 307.6)" />
<rect x="560.0" y="305.0" width="7.3" height="5.4" rx="2.6" fill="#ffffff" transform="rotate(3.0 563.7 307.7)" />
<rect x="491.4" y="318.6" width="7.3" height="5.4" rx="2.6" fill="#ffffff" transform="rotate(3.0 495.1 321.3)" />
<rect x="508.6" y="318.8" width="7.3" height="5.4" rx="2.6" fill="#ffffff" transform="rotate(3.0 512.3 321.5)" />
<rect x="525.9" y="319.0" width="7.3" height="5.4" rx="2.6" fill="#ffffff" transform="rotate(3.0 529.5 321.7)" />
<rect x="543.1" y="319.1" width="7.3" height="5.4" rx="2.6" fill="#ffffff" transform="rotate(3.0 546.7 321.8)" />
<rect x="560.3" y="319.3" width="7.3" height="5.4" rx="2.6" fill="#ffffff" transform="rotate(3.0 563.9 322.0)" />
<rect x="491.7" y="332.6" width="7.3" height="5.4" rx="2.6" fill="#ffffff" transform="rotate(3.0 495.3 335.3)" />
<rect x="508.9" y="332.9" width="7.3" height="5.4" rx="2.6" fill="#ffffff" transform="rotate(3.0 512.5 335.6)" />
<rect x="526.1" y="333.1" width="7.3" height="5.4" rx="2.6" fill="#ffffff" transform="rotate(3.0 529.7 335.8)" />
<rect x="543.3" y="333.3" width="7.3" height="5.4" rx="2.6" fill="#ffffff" transform="rotate(3.0 546.9 336.0)" />
<rect x="560.5" y="333.5" width="7.3" height="5.4" rx="2.6" fill="#ffffff" transform="rotate(3.0 564.1 336.2)" />
<rect x="492.7" y="388.3" width="7.3" height="5.4" rx="2.6" fill="#ffffff" transform="rotate(3.0 496.3 391.0)" />
<rect x="509.8" y="388.9" width="7.3" height="5.4" rx="2.6" fill="#ffffff" transform="rotate(3.0 513.5 391.6)" />
<rect x="527.0" y="389.4" width="7.3" height="5.4" rx="2.6" fill="#ffffff" transform="rotate(3.0 530.7 392.1)" />
<rect x="544.2" y="389.9" width="7.3" height="5.4" rx="2.6" fill="#ffffff" transform="rotate(3.0 547.8 392.6)" />
<rect x="561.4" y="390.4" width="7.3" height="5.4" rx="2.6" fill="#ffffff" transform="rotate(3.0 565.0 393.1)" />
<rect x="492.9" y="402.2" width="7.3" height="5.4" rx="2.6" fill="#ffffff" transform="rotate(3.0 496.6 404.9)" />
<rect x="510.1" y="402.8" width="7.3" height="5.4" rx="2.6" fill="#ffffff" transform="rotate(3.0 513.7 405.5)" />
<rect x="527.2" y="403.4" width="7.3" height="5.4" rx="2.6" fill="#ffffff" transform="rotate(3.0 530.9 406.1)" />
<rect x="544.4" y="404.0" width="7.3" height="5.4" rx="2.6" fill="#ffffff" transform="rotate(3.0 548.1 406.7)" />
<rect x="561.6" y="404.5" width="7.3" height="5.4" rx="2.6" fill="#ffffff" transform="rotate(3.0 565.2 407.2)" />
<rect x="493.2" y="416.1" width="7.3" height="5.4" rx="2.6" fill="#8e9094" transform="rotate(3.0 496.8 418.8)" />
<rect x="510.3" y="416.7" width="7.3" height="5.4" rx="2.6" fill="#8e9094" transform="rotate(3.0 514.0 419.4)" />
<rect x="527.5" y="417.4" width="7.3" height="5.4" rx="2.6" fill="#8e9094" transform="rotate(3.0 531.1 420.1)" />
<rect x="544.6" y="418.0" width="7.3" height="5.4" rx="2.6" fill="#8e9094" transform="rotate(3.0 548.3 420.7)" />
<rect x="561.8" y="418.7" width="7.3" height="5.4" rx="2.6" fill="#8e9094" transform="rotate(3.0 565.4 421.4)" />
<rect x="493.4" y="429.9" width="7.3" height="5.4" rx="2.6" fill="#ffffff" transform="rotate(3.0 497.1 432.6)" />
<rect x="510.6" y="430.6" width="7.3" height="5.4" rx="2.6" fill="#ffffff" transform="rotate(3.0 514.2 433.3)" />
<rect x="527.7" y="431.3" width="7.3" height="5.4" rx="2.6" fill="#ffffff" transform="rotate(3.0 531.4 434.0)" />
<rect x="544.9" y="432.1" width="7.3" height="5.4" rx="2.6" fill="#ffffff" transform="rotate(3.0 548.5 434.8)" />
<rect x="562.0" y="432.8" width="7.3" height="5.4" rx="2.6" fill="#ffffff" transform="rotate(3.0 565.7 435.5)" />
<rect x="493.7" y="443.7" width="7.3" height="5.4" rx="2.6" fill="#ffffff" transform="rotate(3.0 497.3 446.4)" />
<rect x="510.8" y="444.5" width="7.3" height="5.4" rx="2.6" fill="#ffffff" transform="rotate(3.0 514.5 447.2)" />
<rect x="528.0" y="445.3" width="7.3" height="5.4" rx="2.6" fill="#ffffff" transform="rotate(3.0 531.6 448.0)" />
<rect x="545.1" y="446.1" width="7.3" height="5.4" rx="2.6" fill="#ffffff" transform="rotate(3.0 548.7 448.8)" />
<rect x="562.2" y="446.9" width="7.3" height="5.4" rx="2.6" fill="#ffffff" transform="rotate(3.0 565.9 449.6)" />
<rect x="493.9" y="457.4" width="7.3" height="5.4" rx="2.6" fill="#ffffff" transform="rotate(3.0 497.6 460.1)" />
<rect x="511.1" y="458.3" width="7.3" height="5.4" rx="2.6" fill="#ffffff" transform="rotate(3.0 514.7 461.0)" />
<rect x="528.2" y="459.2" width="7.3" height="5.4" rx="2.6" fill="#ffffff" transform="rotate(3.0 531.8 461.9)" />
<rect x="545.3" y="460.1" width="7.3" height="5.4" rx="2.6" fill="#ffffff" transform="rotate(3.0 549.0 462.8)" />
<rect x="562.5" y="460.9" width="7.3" height="5.4" rx="2.6" fill="#ffffff" transform="rotate(3.0 566.1 463.6)" />
<rect x="494.2" y="471.2" width="7.3" height="5.4" rx="2.6" fill="#ffffff" transform="rotate(3.0 497.8 473.9)" />
<rect x="511.3" y="472.1" width="7.3" height="5.4" rx="2.6" fill="#ffffff" transform="rotate(3.0 514.9 474.8)" />
<rect x="528.4" y="473.1" width="7.3" height="5.4" rx="2.6" fill="#ffffff" transform="rotate(3.0 532.1 475.8)" />
<rect x="545.5" y="474.0" width="7.3" height="5.4" rx="2.6" fill="#ffffff" transform="rotate(3.0 549.2 476.7)" />
<rect x="562.7" y="475.0" width="7.3" height="5.4" rx="2.6" fill="#ffffff" transform="rotate(3.0 566.3 477.7)" />
<rect x="494.4" y="484.9" width="7.3" height="5.4" rx="2.6" fill="#ffffff" transform="rotate(3.0 498.1 487.6)" />
<rect x="511.5" y="485.9" width="7.3" height="5.4" rx="2.6" fill="#ffffff" transform="rotate(3.0 515.2 488.6)" />
<rect x="528.6" y="487.0" width="7.3" height="5.4" rx="2.6" fill="#ffffff" transform="rotate(3.0 532.3 489.7)" />
<rect x="545.8" y="488.0" width="7.3" height="5.4" rx="2.6" fill="#ffffff" transform="rotate(3.0 549.4 490.7)" />
<rect x="562.9" y="489.0" width="7.3" height="5.4" rx="2.6" fill="#ffffff" transform="rotate(3.0 566.5 491.7)" />
<rect x="494.7" y="498.6" width="7.3" height="5.4" rx="2.6" fill="#ffffff" transform="rotate(3.0 498.3 501.3)" />
<rect x="511.8" y="499.7" width="7.3" height="5.4" rx="2.6" fill="#ffffff" transform="rotate(3.0 515.4 502.4)" />
<rect x="528.9" y="500.8" width="7.3" height="5.4" rx="2.6" fill="#ffffff" transform="rotate(3.0 532.5 503.5)" />
<rect x="546.0" y="501.9" width="7.3" height="5.4" rx="2.6" fill="#ffffff" transform="rotate(3.0 549.6 504.6)" />
<rect x="563.1" y="503.0" width="7.3" height="5.4" rx="2.6" fill="#ffffff" transform="rotate(3.0 566.8 505.7)" />
<rect x="494.9" y="512.3" width="7.3" height="5.4" rx="2.6" fill="#ffffff" transform="rotate(3.0 498.6 515.0)" />
<rect x="512.0" y="513.5" width="7.3" height="5.4" rx="2.6" fill="#ffffff" transform="rotate(3.0 515.7 516.2)" />
<rect x="529.1" y="514.6" width="7.3" height="5.4" rx="2.6" fill="#ffffff" transform="rotate(3.0 532.8 517.3)" />
<rect x="546.2" y="515.8" width="7.3" height="5.4" rx="2.6" fill="#ffffff" transform="rotate(3.0 549.9 518.5)" />
<rect x="563.3" y="517.0" width="7.3" height="5.4" rx="2.6" fill="#ffffff" transform="rotate(3.0 567.0 519.7)" />
<rect x="495.2" y="525.9" width="7.3" height="5.4" rx="2.6" fill="#ffffff" transform="rotate(3.0 498.8 528.6)" />
<rect x="512.3" y="527.2" width="7.3" height="5.4" rx="2.6" fill="#ffffff" transform="rotate(3.0 515.9 529.9)" />
<rect x="529.4" y="528.4" width="7.3" height="5.4" rx="2.6" fill="#ffffff" transform="rotate(3.0 533.0 531.1)" />
<rect x="546.4" y="529.7" width="7.3" height="5.4" rx="2.6" fill="#ffffff" transform="rotate(3.0 550.1 532.4)" />
<rect x="563.5" y="530.9" width="7.3" height="5.4" rx="2.6" fill="#ffffff" transform="rotate(3.0 567.2 533.6)" />
<rect x="495.4" y="539.6" width="7.3" height="5.4" rx="2.6" fill="#ffffff" transform="rotate(3.0 499.1 542.3)" />
<rect x="512.5" y="540.9" width="7.3" height="5.4" rx="2.6" fill="#ffffff" transform="rotate(3.0 516.1 543.6)" />
<rect x="529.6" y="542.2" width="7.3" height="5.4" rx="2.6" fill="#ffffff" transform="rotate(3.0 533.2 544.9)" />
<rect x="546.7" y="543.5" width="7.3" height="5.4" rx="2.6" fill="#ffffff" transform="rotate(3.0 550.3 546.2)" />
<rect x="563.8" y="544.8" width="7.3" height="5.4" rx="2.6" fill="#ffffff" transform="rotate(3.0 567.4 547.5)" />
<rect x="495.7" y="553.2" width="7.3" height="5.4" rx="2.6" fill="#ffffff" transform="rotate(3.0 499.3 555.9)" />
<rect x="512.7" y="554.6" width="7.3" height="5.4" rx="2.6" fill="#ffffff" transform="rotate(3.0 516.4 557.3)" />
<rect x="529.8" y="556.0" width="7.3" height="5.4" rx="2.6" fill="#ffffff" transform="rotate(3.0 533.5 558.7)" />
<rect x="546.9" y="557.3" width="7.3" height="5.4" rx="2.6" fill="#ffffff" transform="rotate(3.0 550.5 560.0)" />
<rect x="564.0" y="558.7" width="7.3" height="5.4" rx="2.6" fill="#ffffff" transform="rotate(3.0 567.6 561.4)" />
<rect x="495.9" y="566.7" width="7.3" height="5.4" rx="2.6" fill="#ffffff" transform="rotate(3.0 499.6 569.4)" />
<rect x="513.0" y="568.2" width="7.3" height="5.4" rx="2.6" fill="#ffffff" transform="rotate(3.0 516.6 570.9)" />
<rect x="530.1" y="569.7" width="7.3" height="5.4" rx="2.6" fill="#ffffff" transform="rotate(3.0 533.7 572.4)" />
<rect x="547.1" y="571.2" width="7.3" height="5.4" rx="2.6" fill="#ffffff" transform="rotate(3.0 550.8 573.9)" />
<rect x="564.2" y="572.6" width="7.3" height="5.4" rx="2.6" fill="#ffffff" transform="rotate(3.0 567.8 575.3)" />
<rect x="496.2" y="580.3" width="7.3" height="5.4" rx="2.6" fill="#ffffff" transform="rotate(3.0 499.8 583.0)" />
<rect x="513.2" y="581.8" width="7.3" height="5.4" rx="2.6" fill="#ffffff" transform="rotate(3.0 516.9 584.5)" />
<rect x="530.3" y="583.4" width="7.3" height="5.4" rx="2.6" fill="#ffffff" transform="rotate(3.0 533.9 586.1)" />
<rect x="547.3" y="584.9" width="7.3" height="5.4" rx="2.6" fill="#9a9b9d" transform="rotate(3.0 551.0 587.6)" />
<rect x="564.4" y="586.5" width="7.3" height="5.4" rx="2.6" fill="#3d3e40" transform="rotate(3.0 568.1 589.2)" />
<rect x="496.4" y="593.8" width="7.3" height="5.4" rx="2.6" fill="#ffffff" transform="rotate(3.0 500.1 596.5)" />
<rect x="513.5" y="595.4" width="7.3" height="5.4" rx="2.6" fill="#9a9b9d" transform="rotate(3.0 517.1 598.1)" />
<rect x="530.5" y="597.1" width="7.3" height="5.4" rx="2.6" fill="#3d3e40" transform="rotate(3.0 534.2 599.8)" />
<rect x="547.6" y="598.7" width="7.3" height="5.4" rx="2.6" fill="#3d3e40" transform="rotate(3.0 551.2 601.4)" />
<rect x="564.6" y="600.3" width="7.3" height="5.4" rx="2.6" fill="#3d3e40" transform="rotate(3.0 568.3 603.0)" />
<rect x="496.7" y="607.3" width="7.3" height="5.4" rx="2.6" fill="#3d3e40" transform="rotate(3.0 500.3 610.0)" />
<rect x="513.7" y="609.0" width="7.3" height="5.4" rx="2.6" fill="#3d3e40" transform="rotate(3.0 517.4 611.7)" />
<rect x="530.8" y="610.7" width="7.3" height="5.4" rx="2.6" fill="#3d3e40" transform="rotate(3.0 534.4 613.4)" />
<rect x="547.8" y="612.4" width="7.3" height="5.4" rx="2.6" fill="#3d3e40" transform="rotate(3.0 551.5 615.1)" />
<rect x="564.9" y="614.1" width="7.3" height="5.4" rx="2.6" fill="#3d3e40" transform="rotate(3.0 568.5 616.8)" />
<path d="M464.5 153.2 l2 -2 l2 2 l-2 2z" fill="#7c7f83"/>
<path d="M464.7 167.2 l2 -2 l2 2 l-2 2z" fill="#7c7f83"/>
<path d="M465.0 181.1 l2 -2 l2 2 l-2 2z" fill="#7c7f83"/>
<path d="M465.2 195.0 l2 -2 l2 2 l-2 2z" fill="#7c7f83"/>
<path d="M465.5 208.9 l2 -2 l2 2 l-2 2z" fill="#7c7f83"/>
<path d="M465.8 222.8 l2 -2 l2 2 l-2 2z" fill="#7c7f83"/>
<path d="M466.0 236.6 l2 -2 l2 2 l-2 2z" fill="#7c7f83"/>
<path d="M466.3 250.4 l2 -2 l2 2 l-2 2z" fill="#7c7f83"/>
<path d="M466.5 264.2 l2 -2 l2 2 l-2 2z" fill="#7c7f83"/>
<path d="M466.8 278.0 l2 -2 l2 2 l-2 2z" fill="#7c7f83"/>
<path d="M467.1 291.8 l2 -2 l2 2 l-2 2z" fill="#7c7f83"/>
<path d="M467.3 305.5 l2 -2 l2 2 l-2 2z" fill="#7c7f83"/>
<path d="M467.6 319.2 l2 -2 l2 2 l-2 2z" fill="#7c7f83"/>
<path d="M467.8 332.9 l2 -2 l2 2 l-2 2z" fill="#7c7f83"/>
<path d="M468.1 346.5 l2 -2 l2 2 l-2 2z" fill="#7c7f83"/>
<path d="M468.4 360.2 l2 -2 l2 2 l-2 2z" fill="#7c7f83"/>
<path d="M468.6 373.8 l2 -2 l2 2 l-2 2z" fill="#7c7f83"/>
<path d="M468.9 387.4 l2 -2 l2 2 l-2 2z" fill="#7c7f83"/>
<path d="M469.1 400.9 l2 -2 l2 2 l-2 2z" fill="#7c7f83"/>
<path d="M469.4 414.5 l2 -2 l2 2 l-2 2z" fill="#7c7f83"/>
<path d="M469.7 428.0 l2 -2 l2 2 l-2 2z" fill="#7c7f83"/>
<path d="M469.9 441.5 l2 -2 l2 2 l-2 2z" fill="#7c7f83"/>
<path d="M470.2 455.0 l2 -2 l2 2 l-2 2z" fill="#7c7f83"/>
<path d="M470.4 468.4 l2 -2 l2 2 l-2 2z" fill="#7c7f83"/>
<path d="M470.7 481.8 l2 -2 l2 2 l-2 2z" fill="#7c7f83"/>
<path d="M471.0 495.2 l2 -2 l2 2 l-2 2z" fill="#7c7f83"/>
<path d="M471.2 508.6 l2 -2 l2 2 l-2 2z" fill="#7c7f83"/>
<path d="M471.5 521.9 l2 -2 l2 2 l-2 2z" fill="#7c7f83"/>
<path d="M471.7 535.3 l2 -2 l2 2 l-2 2z" fill="#7c7f83"/>
<path d="M472.0 548.6 l2 -2 l2 2 l-2 2z" fill="#7c7f83"/>
<path d="M472.3 561.9 l2 -2 l2 2 l-2 2z" fill="#7c7f83"/>
<path d="M472.5 575.1 l2 -2 l2 2 l-2 2z" fill="#7c7f83"/>
<path d="M472.8 588.3 l2 -2 l2 2 l-2 2z" fill="#7c7f83"/>
<path d="M473.0 601.6 l2 -2 l2 2 l-2 2z" fill="#7c7f83"/>
<path d="M473.3 614.7 l2 -2 l2 2 l-2 2z" fill="#7c7f83"/>
<path d="M585.5 147.2 l2.6 -1.9 v3.8z" fill="#cfd0d2"/>
<path d="M585.7 161.9 l2.6 -1.9 v3.8z" fill="#cfd0d2"/>
<path d="M585.9 176.7 l2.6 -1.9 v3.8z" fill="#cfd0d2"/>
<path d="M586.1 191.3 l2.6 -1.9 v3.8z" fill="#cfd0d2"/>
<path d="M586.3 206.0 l2.6 -1.9 v3.8z" fill="#cfd0d2"/>
<path d="M586.4 220.7 l2.6 -1.9 v3.8z" fill="#cfd0d2"/>
<path d="M586.6 235.3 l2.6 -1.9 v3.8z" fill="#cfd0d2"/>
<path d="M586.8 249.9 l2.6 -1.9 v3.8z" fill="#cfd0d2"/>
<path d="M587.0 264.5 l2.6 -1.9 v3.8z" fill="#cfd0d2"/>
<path d="M587.2 279.0 l2.6 -1.9 v3.8z" fill="#cfd0d2"/>
<path d="M587.4 293.6 l2.6 -1.9 v3.8z" fill="#cfd0d2"/>
<path d="M587.6 308.1 l2.6 -1.9 v3.8z" fill="#cfd0d2"/>
<path d="M587.8 322.6 l2.6 -1.9 v3.8z" fill="#cfd0d2"/>
<path d="M588.0 337.0 l2.6 -1.9 v3.8z" fill="#cfd0d2"/>
<path d="M588.1 351.5 l2.6 -1.9 v3.8z" fill="#cfd0d2"/>
<path d="M588.3 365.9 l2.6 -1.9 v3.8z" fill="#cfd0d2"/>
<path d="M588.5 380.3 l2.6 -1.9 v3.8z" fill="#cfd0d2"/>
<path d="M588.7 394.7 l2.6 -1.9 v3.8z" fill="#cfd0d2"/>
<path d="M588.9 409.0 l2.6 -1.9 v3.8z" fill="#cfd0d2"/>
<path d="M589.1 423.4 l2.6 -1.9 v3.8z" fill="#cfd0d2"/>
<path d="M589.3 437.7 l2.6 -1.9 v3.8z" fill="#cfd0d2"/>
<path d="M589.5 452.0 l2.6 -1.9 v3.8z" fill="#cfd0d2"/>
<path d="M589.6 466.2 l2.6 -1.9 v3.8z" fill="#cfd0d2"/>
<path d="M589.8 480.5 l2.6 -1.9 v3.8z" fill="#cfd0d2"/>
<path d="M590.0 494.7 l2.6 -1.9 v3.8z" fill="#cfd0d2"/>
<path d="M590.2 508.9 l2.6 -1.9 v3.8z" fill="#cfd0d2"/>
<path d="M590.4 523.1 l2.6 -1.9 v3.8z" fill="#cfd0d2"/>
<path d="M590.6 537.2 l2.6 -1.9 v3.8z" fill="#cfd0d2"/>
<path d="M590.8 551.3 l2.6 -1.9 v3.8z" fill="#cfd0d2"/>
<path d="M591.0 565.4 l2.6 -1.9 v3.8z" fill="#cfd0d2"/>
<path d="M591.2 579.5 l2.6 -1.9 v3.8z" fill="#4a4b4d"/>
<path d="M591.3 593.6 l2.6 -1.9 v3.8z" fill="#4a4b4d"/>
<path d="M591.5 607.6 l2.6 -1.9 v3.8z" fill="#4a4b4d"/>
<path d="M591.7 621.6 l2.6 -1.9 v3.8z" fill="#4a4b4d"/>
<polygon points="303.0,48.0 589.8,107.0 589.8,142.2 303.0,95.4" fill="url(#gShelfTop)" />
<polygon points="303.0,95.4 589.8,142.2 589.8,144.0 463.0,148.2 303.0,127.1" fill="url(#gShelfUnder)" />
<line x1="304.5" y1="95.6" x2="589.8" y2="142.2" stroke="#8e9094" stroke-width="0.8" />
<line x1="304.5" y1="96.6" x2="589.8" y2="143.0" stroke="#a9abaf" stroke-width="0.6" />
<polygon points="599.7,110.6 765.4,143.9 765.4,168.4 599.7,144.3" fill="url(#gShelfTop)" />
<polygon points="599.7,144.3 765.4,168.4 765.4,172.2 655.5,174.8 599.7,167.6" fill="url(#gShelfUnder)" />
<line x1="599.7" y1="144.3" x2="765.4" y2="168.4" stroke="#8e9094" stroke-width="0.8" />
<line x1="599.7" y1="145.3" x2="765.4" y2="169.2" stroke="#a9abaf" stroke-width="0.6" />
<polygon points="308.5,267.0 595.8,269.0 595.8,304.1 310.0,312.9" fill="url(#gMid)" />
<polygon points="602.3,269.5 765.6,270.8 765.6,298.7 602.3,303.6" fill="url(#gMid)" />
<line x1="308.5" y1="267.4" x2="595.8" y2="269.4" stroke="#aeb0b3" stroke-width="0.8" />
<line x1="602.3" y1="269.9" x2="765.6" y2="271.2" stroke="#aeb0b3" stroke-width="0.8" />
<polygon points="314.2,446.5 468.4,423.2 469.4,451.2 315.0,479.7" fill="#9a9ca0" />
<polygon points="314.2,446.5 468.4,423.2 468.8,431.0 314.6,458.3" fill="#a1a3a7" opacity="0.6"/>
<polygon points="468.2,423.2 597.5,426.0 597.5,427.6 469.2,451.2" fill="#707276" />
<polygon points="468.2,423.2 476.6,423.4 477.4,449.7 469.2,451.2" fill="#85878b" />
<polygon points="315.0,479.2 597.5,427.0 597.5,464.0 316.4,526.5" fill="url(#gLip)" />
<line x1="315.0" y1="479.2" x2="597.5" y2="427.0" stroke="#d3d4d6" stroke-width="1.5" />
<circle cx="472.4" cy="430.6" r="1.7" fill="#b9bbbe" stroke="#77797d" stroke-width="0.7"/>
<circle cx="472.8" cy="444.4" r="1.7" fill="#b9bbbe" stroke="#77797d" stroke-width="0.7"/>
<polygon points="604.2,402.2 660.8,391.8 661.4,415.4 604.2,426.1" fill="#999b9f" />
<polygon points="604.2,402.2 660.8,391.8 661.0,397.0 604.2,410.0" fill="#a1a3a7" opacity="0.6"/>
<polygon points="660.6,391.8 765.6,394.8 765.6,396.0 661.2,415.4" fill="#6d6f73" />
<polygon points="660.6,391.8 665.8,392.0 666.4,414.5 661.2,415.4" fill="#83858a" />
<polygon points="604.2,425.6 765.6,395.4 765.6,424.0 604.2,459.6" fill="url(#gLip)" />
<line x1="604.2" y1="425.6" x2="765.6" y2="395.4" stroke="#d3d4d6" stroke-width="1.4" />
<circle cx="663.4" cy="398.8" r="1.2" fill="#b9bbbe" stroke="#77797d" stroke-width="0.5"/>
<circle cx="663.6" cy="409.2" r="1.2" fill="#b9bbbe" stroke="#77797d" stroke-width="0.5"/>
<polygon points="589.6,106.5 594.0,106.3 594.3,144.0 589.8,144.0" fill="#63666a" />
<polygon points="593.9,106.3 599.8,106.6 605.2,628.4 598.6,629.6" fill="#75787d" />
<linearGradient id="gPostM" gradientUnits="userSpaceOnUse" x1="0" y1="106" x2="0" y2="630"><stop offset="0" stop-color="#777a7f"/><stop offset="0.6" stop-color="#74777b"/><stop offset="1" stop-color="#808387"/></linearGradient>
<polygon points="593.9,106.3 600.1,106.6 605.8,628.4 598.6,629.6" fill="url(#gPostM)" />
<polygon points="765.1,142.8 768.8,142.7 770.0,555.8 766.6,556.2" fill="#74777c" />
<line x1="765.3" y1="143.0" x2="766.8" y2="556.0" stroke="#5d6064" stroke-width="0.9" />
<polygon points="130.0,55.0 293.3,42.4 314.2,756.6 156.5,733.5" fill="url(#gLeftPanel)" />
<polygon points="130.0,55.0 293.3,42.4 314.2,756.6 156.5,733.5" fill="url(#gLeftGlow)" />
<path d="M292.7 42.4 L301.5 42.6 Q304.3 42.8 304.4 45.4 L324.7 751.8 L313.6 756.6 Z" fill="url(#gLeftSide)"/>
<rect x="162.9" y="64.8" width="8.6" height="7.4" rx="3.6" fill="#8c8e92" transform="rotate(-4.0 167.2 68.5)" />
<rect x="184.3" y="63.4" width="8.6" height="7.4" rx="3.6" fill="#8c8e92" transform="rotate(-4.0 188.6 67.1)" />
<rect x="205.6" y="62.0" width="8.6" height="7.4" rx="3.6" fill="#8c8e92" transform="rotate(-4.0 209.9 65.7)" />
<rect x="227.0" y="60.5" width="8.6" height="7.4" rx="3.6" fill="#8c8e92" transform="rotate(-4.0 231.3 64.2)" />
<rect x="248.4" y="59.1" width="8.6" height="7.4" rx="3.6" fill="#8c8e92" transform="rotate(-4.0 252.7 62.8)" />
<rect x="163.6" y="84.2" width="8.6" height="7.4" rx="3.6" fill="#8c8e92" transform="rotate(-3.7 167.9 87.9)" />
<rect x="184.9" y="82.9" width="8.6" height="7.4" rx="3.6" fill="#8c8e92" transform="rotate(-3.7 189.2 86.6)" />
<rect x="206.3" y="81.6" width="8.6" height="7.4" rx="3.6" fill="#8c8e92" transform="rotate(-3.7 210.6 85.3)" />
<rect x="227.7" y="80.3" width="8.6" height="7.4" rx="3.6" fill="#8c8e92" transform="rotate(-3.7 232.0 84.0)" />
<rect x="249.0" y="79.0" width="8.6" height="7.4" rx="3.6" fill="#8c8e92" transform="rotate(-3.7 253.3 82.7)" />
<rect x="164.3" y="103.6" width="8.6" height="7.4" rx="3.6" fill="#c9cacc" transform="rotate(-3.3 168.6 107.3)" />
<rect x="185.6" y="102.5" width="8.6" height="7.4" rx="3.6" fill="#8c8e92" transform="rotate(-3.3 189.9 106.2)" />
<rect x="207.0" y="101.3" width="8.6" height="7.4" rx="3.6" fill="#8c8e92" transform="rotate(-3.3 211.3 105.0)" />
<rect x="228.3" y="100.1" width="8.6" height="7.4" rx="3.6" fill="#8c8e92" transform="rotate(-3.3 232.6 103.8)" />
<rect x="249.6" y="98.9" width="8.6" height="7.4" rx="3.6" fill="#8c8e92" transform="rotate(-3.3 253.9 102.6)" />
<rect x="164.9" y="123.0" width="8.6" height="7.4" rx="3.6" fill="#ffffff" transform="rotate(-3.0 169.2 126.7)" />
<rect x="186.3" y="121.9" width="8.6" height="7.4" rx="3.6" fill="#ffffff" transform="rotate(-3.0 190.6 125.6)" />
<rect x="207.6" y="120.9" width="8.6" height="7.4" rx="3.6" fill="#ffffff" transform="rotate(-3.0 211.9 124.6)" />
<rect x="228.9" y="119.8" width="8.6" height="7.4" rx="3.6" fill="#ffffff" transform="rotate(-3.0 233.2 123.5)" />
<rect x="250.3" y="118.8" width="8.6" height="7.4" rx="3.6" fill="#ffffff" transform="rotate(-3.0 254.6 122.5)" />
<rect x="165.6" y="142.3" width="8.6" height="7.4" rx="3.6" fill="#ffffff" transform="rotate(-2.6 169.9 146.0)" />
<rect x="186.9" y="141.4" width="8.6" height="7.4" rx="3.6" fill="#ffffff" transform="rotate(-2.6 191.2 145.1)" />
<rect x="208.3" y="140.5" width="8.6" height="7.4" rx="3.6" fill="#ffffff" transform="rotate(-2.6 212.6 144.2)" />
<rect x="229.6" y="139.5" width="8.6" height="7.4" rx="3.6" fill="#ffffff" transform="rotate(-2.6 233.9 143.2)" />
<rect x="250.9" y="138.6" width="8.6" height="7.4" rx="3.6" fill="#ffffff" transform="rotate(-2.6 255.2 142.3)" />
<rect x="166.3" y="161.6" width="8.6" height="7.4" rx="3.6" fill="#ffffff" transform="rotate(-2.3 170.6 165.3)" />
<rect x="187.6" y="160.8" width="8.6" height="7.4" rx="3.6" fill="#ffffff" transform="rotate(-2.3 191.9 164.5)" />
<rect x="208.9" y="160.0" width="8.6" height="7.4" rx="3.6" fill="#ffffff" transform="rotate(-2.3 213.2 163.7)" />
<rect x="230.2" y="159.2" width="8.6" height="7.4" rx="3.6" fill="#ffffff" transform="rotate(-2.3 234.5 162.9)" />
<rect x="251.5" y="158.4" width="8.6" height="7.4" rx="3.6" fill="#ffffff" transform="rotate(-2.3 255.8 162.1)" />
<rect x="167.0" y="180.8" width="8.6" height="7.4" rx="3.6" fill="#ffffff" transform="rotate(-1.9 171.3 184.5)" />
<rect x="188.3" y="180.2" width="8.6" height="7.4" rx="3.6" fill="#ffffff" transform="rotate(-1.9 192.6 183.9)" />
<rect x="209.6" y="179.5" width="8.6" height="7.4" rx="3.6" fill="#ffffff" transform="rotate(-1.9 213.9 183.2)" />
<rect x="230.8" y="178.8" width="8.6" height="7.4" rx="3.6" fill="#ffffff" transform="rotate(-1.9 235.1 182.5)" />
<rect x="252.1" y="178.1" width="8.6" height="7.4" rx="3.6" fill="#ffffff" transform="rotate(-1.9 256.4 181.8)" />
<rect x="167.7" y="200.0" width="8.6" height="7.4" rx="3.6" fill="#ffffff" transform="rotate(-1.6 172.0 203.7)" />
<rect x="188.9" y="199.5" width="8.6" height="7.4" rx="3.6" fill="#ffffff" transform="rotate(-1.6 193.2 203.2)" />
<rect x="210.2" y="198.9" width="8.6" height="7.4" rx="3.6" fill="#ffffff" transform="rotate(-1.6 214.5 202.6)" />
<rect x="231.5" y="198.4" width="8.6" height="7.4" rx="3.6" fill="#ffffff" transform="rotate(-1.6 235.8 202.1)" />
<rect x="252.8" y="197.9" width="8.6" height="7.4" rx="3.6" fill="#ffffff" transform="rotate(-1.6 257.1 201.6)" />
<rect x="168.3" y="219.2" width="8.6" height="7.4" rx="3.6" fill="#ffffff" transform="rotate(-1.3 172.6 222.9)" />
<rect x="189.6" y="218.8" width="8.6" height="7.4" rx="3.6" fill="#ffffff" transform="rotate(-1.3 193.9 222.5)" />
<rect x="210.9" y="218.4" width="8.6" height="7.4" rx="3.6" fill="#ffffff" transform="rotate(-1.3 215.2 222.1)" />
<rect x="232.1" y="217.9" width="8.6" height="7.4" rx="3.6" fill="#ffffff" transform="rotate(-1.3 236.4 221.6)" />
<rect x="253.4" y="217.5" width="8.6" height="7.4" rx="3.6" fill="#ffffff" transform="rotate(-1.3 257.7 221.2)" />
<rect x="169.0" y="238.3" width="8.6" height="7.4" rx="3.6" fill="#ffffff" transform="rotate(-0.9 173.3 242.0)" />
<rect x="190.3" y="238.0" width="8.6" height="7.4" rx="3.6" fill="#ffffff" transform="rotate(-0.9 194.6 241.7)" />
<rect x="211.5" y="237.7" width="8.6" height="7.4" rx="3.6" fill="#ffffff" transform="rotate(-0.9 215.8 241.4)" />
<rect x="232.8" y="237.5" width="8.6" height="7.4" rx="3.6" fill="#ffffff" transform="rotate(-0.9 237.1 241.2)" />
<rect x="254.0" y="237.2" width="8.6" height="7.4" rx="3.6" fill="#ffffff" transform="rotate(-0.9 258.3 240.9)" />
<rect x="169.7" y="257.4" width="8.6" height="7.4" rx="3.6" fill="#ffffff" transform="rotate(-0.6 174.0 261.1)" />
<rect x="190.9" y="257.3" width="8.6" height="7.4" rx="3.6" fill="#ffffff" transform="rotate(-0.6 195.2 261.0)" />
<rect x="212.2" y="257.1" width="8.6" height="7.4" rx="3.6" fill="#ffffff" transform="rotate(-0.6 216.5 260.8)" />
<rect x="233.4" y="256.9" width="8.6" height="7.4" rx="3.6" fill="#ffffff" transform="rotate(-0.6 237.7 260.6)" />
<rect x="254.6" y="256.8" width="8.6" height="7.4" rx="3.6" fill="#ffffff" transform="rotate(-0.6 258.9 260.5)" />
<rect x="170.4" y="276.5" width="8.6" height="7.4" rx="3.6" fill="#85878b" transform="rotate(-0.2 174.7 280.2)" />
<rect x="191.6" y="276.4" width="8.6" height="7.4" rx="3.6" fill="#85878b" transform="rotate(-0.2 195.9 280.1)" />
<rect x="212.8" y="276.4" width="8.6" height="7.4" rx="3.6" fill="#85878b" transform="rotate(-0.2 217.1 280.1)" />
<rect x="234.0" y="276.4" width="8.6" height="7.4" rx="3.6" fill="#85878b" transform="rotate(-0.2 238.3 280.1)" />
<rect x="255.3" y="276.3" width="8.6" height="7.4" rx="3.6" fill="#85878b" transform="rotate(-0.2 259.6 280.0)" />
<rect x="171.1" y="295.5" width="8.6" height="7.4" rx="3.6" fill="#85878b" transform="rotate(0.1 175.4 299.2)" />
<rect x="192.3" y="295.6" width="8.6" height="7.4" rx="3.6" fill="#85878b" transform="rotate(0.1 196.6 299.3)" />
<rect x="213.5" y="295.7" width="8.6" height="7.4" rx="3.6" fill="#85878b" transform="rotate(0.1 217.8 299.4)" />
<rect x="234.7" y="295.8" width="8.6" height="7.4" rx="3.6" fill="#85878b" transform="rotate(0.1 239.0 299.5)" />
<rect x="255.9" y="295.9" width="8.6" height="7.4" rx="3.6" fill="#85878b" transform="rotate(0.1 260.2 299.6)" />
<rect x="171.7" y="314.5" width="8.6" height="7.4" rx="3.6" fill="#ffffff" transform="rotate(0.5 176.0 318.2)" />
<rect x="192.9" y="314.7" width="8.6" height="7.4" rx="3.6" fill="#ffffff" transform="rotate(0.5 197.2 318.4)" />
<rect x="214.1" y="314.9" width="8.6" height="7.4" rx="3.6" fill="#ffffff" transform="rotate(0.5 218.4 318.6)" />
<rect x="235.3" y="315.1" width="8.6" height="7.4" rx="3.6" fill="#ffffff" transform="rotate(0.5 239.6 318.8)" />
<rect x="256.5" y="315.4" width="8.6" height="7.4" rx="3.6" fill="#ffffff" transform="rotate(0.5 260.8 319.1)" />
<rect x="172.4" y="333.4" width="8.6" height="7.4" rx="3.6" fill="#ffffff" transform="rotate(0.8 176.7 337.1)" />
<rect x="193.6" y="333.8" width="8.6" height="7.4" rx="3.6" fill="#ffffff" transform="rotate(0.8 197.9 337.5)" />
<rect x="214.8" y="334.1" width="8.6" height="7.4" rx="3.6" fill="#ffffff" transform="rotate(0.8 219.1 337.8)" />
<rect x="235.9" y="334.5" width="8.6" height="7.4" rx="3.6" fill="#ffffff" transform="rotate(0.8 240.2 338.2)" />
<rect x="257.1" y="334.8" width="8.6" height="7.4" rx="3.6" fill="#ffffff" transform="rotate(0.8 261.4 338.5)" />
<rect x="173.1" y="352.3" width="8.6" height="7.4" rx="3.6" fill="#ffffff" transform="rotate(1.1 177.4 356.0)" />
<rect x="194.3" y="352.8" width="8.6" height="7.4" rx="3.6" fill="#ffffff" transform="rotate(1.1 198.6 356.5)" />
<rect x="215.4" y="353.3" width="8.6" height="7.4" rx="3.6" fill="#ffffff" transform="rotate(1.1 219.7 357.0)" />
<rect x="236.6" y="353.8" width="8.6" height="7.4" rx="3.6" fill="#ffffff" transform="rotate(1.1 240.9 357.5)" />
<rect x="257.7" y="354.2" width="8.6" height="7.4" rx="3.6" fill="#ffffff" transform="rotate(1.1 262.0 357.9)" />
<rect x="175.8" y="427.6" width="8.6" height="7.4" rx="3.6" fill="#ffffff" transform="rotate(2.5 180.1 431.3)" />
<rect x="196.9" y="428.6" width="8.6" height="7.4" rx="3.6" fill="#ffffff" transform="rotate(2.5 201.2 432.3)" />
<rect x="218.0" y="429.6" width="8.6" height="7.4" rx="3.6" fill="#ffffff" transform="rotate(2.5 222.3 433.3)" />
<rect x="239.1" y="430.5" width="8.6" height="7.4" rx="3.6" fill="#ffffff" transform="rotate(2.5 243.4 434.2)" />
<rect x="260.2" y="431.5" width="8.6" height="7.4" rx="3.6" fill="#ffffff" transform="rotate(2.5 264.5 435.2)" />
<rect x="176.5" y="446.3" width="8.6" height="7.4" rx="3.6" fill="#ffffff" transform="rotate(2.9 180.8 450.0)" />
<rect x="197.6" y="447.4" width="8.6" height="7.4" rx="3.6" fill="#ffffff" transform="rotate(2.9 201.9 451.1)" />
<rect x="218.7" y="448.5" width="8.6" height="7.4" rx="3.6" fill="#ffffff" transform="rotate(2.9 223.0 452.2)" />
<rect x="239.8" y="449.7" width="8.6" height="7.4" rx="3.6" fill="#ffffff" transform="rotate(2.9 244.1 453.4)" />
<rect x="260.9" y="450.8" width="8.6" height="7.4" rx="3.6" fill="#ffffff" transform="rotate(2.9 265.2 454.5)" />
<rect x="177.2" y="465.0" width="8.6" height="7.4" rx="3.6" fill="#ffffff" transform="rotate(3.2 181.5 468.7)" />
<rect x="198.3" y="466.2" width="8.6" height="7.4" rx="3.6" fill="#8c8e92" transform="rotate(3.2 202.6 469.9)" />
<rect x="219.3" y="467.5" width="8.6" height="7.4" rx="3.6" fill="#8c8e92" transform="rotate(3.2 223.6 471.2)" />
<rect x="240.4" y="468.7" width="8.6" height="7.4" rx="3.6" fill="#8c8e92" transform="rotate(3.2 244.7 472.4)" />
<rect x="261.5" y="470.0" width="8.6" height="7.4" rx="3.6" fill="#8c8e92" transform="rotate(3.2 265.8 473.7)" />
<rect x="177.9" y="483.6" width="8.6" height="7.4" rx="3.6" fill="#8f9195" transform="rotate(3.5 182.2 487.3)" />
<rect x="198.9" y="485.0" width="8.6" height="7.4" rx="3.6" fill="#8f9195" transform="rotate(3.5 203.2 488.7)" />
<rect x="220.0" y="486.4" width="8.6" height="7.4" rx="3.6" fill="#8f9195" transform="rotate(3.5 224.3 490.1)" />
<rect x="241.0" y="487.8" width="8.6" height="7.4" rx="3.6" fill="#8f9195" transform="rotate(3.5 245.3 491.5)" />
<rect x="262.1" y="489.1" width="8.6" height="7.4" rx="3.6" fill="#8f9195" transform="rotate(3.5 266.4 492.8)" />
<rect x="178.5" y="502.2" width="8.6" height="7.4" rx="3.6" fill="#8f9195" transform="rotate(3.9 182.8 505.9)" />
<rect x="199.6" y="503.7" width="8.6" height="7.4" rx="3.6" fill="#8f9195" transform="rotate(3.9 203.9 507.4)" />
<rect x="220.6" y="505.2" width="8.6" height="7.4" rx="3.6" fill="#8f9195" transform="rotate(3.9 224.9 508.9)" />
<rect x="241.7" y="506.7" width="8.6" height="7.4" rx="3.6" fill="#8f9195" transform="rotate(3.9 246.0 510.4)" />
<rect x="262.7" y="508.3" width="8.6" height="7.4" rx="3.6" fill="#8f9195" transform="rotate(3.9 267.0 512.0)" />
<rect x="179.2" y="520.8" width="8.6" height="7.4" rx="3.6" fill="#ffffff" transform="rotate(4.2 183.5 524.5)" />
<rect x="200.7" y="522.8" width="7.8" height="6.6" rx="3.0" fill="#1e1e1f" transform="rotate(4.2 204.6 526.1)" />
<rect x="221.3" y="524.1" width="8.6" height="7.4" rx="3.6" fill="#85878a" transform="rotate(4.2 225.6 527.8)" />
<rect x="242.3" y="525.7" width="8.6" height="7.4" rx="3.6" fill="#888a8d" transform="rotate(4.2 246.6 529.4)" />
<rect x="263.3" y="527.3" width="8.6" height="7.4" rx="3.6" fill="#8a8c8f" transform="rotate(4.2 267.6 531.0)" />
<rect x="179.9" y="539.3" width="8.6" height="7.4" rx="3.6" fill="#55575a" transform="rotate(4.6 184.2 543.0)" />
<rect x="200.9" y="541.1" width="8.6" height="7.4" rx="3.6" fill="#4a4c4e" transform="rotate(4.6 205.2 544.8)" />
<rect x="221.9" y="542.9" width="8.6" height="7.4" rx="3.6" fill="#3a3b3d" transform="rotate(4.6 226.2 546.6)" />
<rect x="243.4" y="545.0" width="7.8" height="6.6" rx="3.0" fill="#1e1e1f" transform="rotate(4.6 247.3 548.3)" />
<rect x="264.4" y="546.8" width="7.8" height="6.6" rx="3.0" fill="#1e1e1f" transform="rotate(4.6 268.3 550.1)" />
<rect x="181.0" y="558.2" width="7.8" height="6.6" rx="3.0" fill="#1e1e1f" transform="rotate(4.9 184.9 561.5)" />
<rect x="202.0" y="560.1" width="7.8" height="6.6" rx="3.0" fill="#1e1e1f" transform="rotate(4.9 205.9 563.4)" />
<rect x="223.0" y="562.0" width="7.8" height="6.6" rx="3.0" fill="#1e1e1f" transform="rotate(4.9 226.9 565.3)" />
<rect x="244.0" y="563.9" width="7.8" height="6.6" rx="3.0" fill="#1e1e1f" transform="rotate(4.9 247.9 567.2)" />
<rect x="265.0" y="565.8" width="7.8" height="6.6" rx="3.0" fill="#1e1e1f" transform="rotate(4.9 268.9 569.1)" />
<rect x="181.7" y="576.7" width="7.8" height="6.6" rx="3.0" fill="#1e1e1f" transform="rotate(5.3 185.6 580.0)" />
<rect x="202.6" y="578.7" width="7.8" height="6.6" rx="3.0" fill="#1e1e1f" transform="rotate(5.3 206.5 582.0)" />
<rect x="223.6" y="580.7" width="7.8" height="6.6" rx="3.0" fill="#1e1e1f" transform="rotate(5.3 227.5 584.0)" />
<rect x="244.6" y="582.8" width="7.8" height="6.6" rx="3.0" fill="#1e1e1f" transform="rotate(5.3 248.5 586.1)" />
<rect x="265.6" y="584.8" width="7.8" height="6.6" rx="3.0" fill="#1e1e1f" transform="rotate(5.3 269.5 588.1)" />
<rect x="182.3" y="595.1" width="7.8" height="6.6" rx="3.0" fill="#1e1e1f" transform="rotate(5.6 186.2 598.4)" />
<rect x="203.3" y="597.3" width="7.8" height="6.6" rx="3.0" fill="#1e1e1f" transform="rotate(5.6 207.2 600.6)" />
<rect x="224.3" y="599.4" width="7.8" height="6.6" rx="3.0" fill="#1e1e1f" transform="rotate(5.6 228.2 602.7)" />
<rect x="245.3" y="601.6" width="7.8" height="6.6" rx="3.0" fill="#1e1e1f" transform="rotate(5.6 249.2 604.9)" />
<rect x="266.2" y="603.7" width="7.8" height="6.6" rx="3.0" fill="#1e1e1f" transform="rotate(5.6 270.1 607.0)" />
<rect x="183.0" y="613.5" width="7.8" height="6.6" rx="3.0" fill="#1e1e1f" transform="rotate(5.9 186.9 616.8)" />
<rect x="204.0" y="615.8" width="7.8" height="6.6" rx="3.0" fill="#1e1e1f" transform="rotate(5.9 207.9 619.1)" />
<rect x="224.9" y="618.1" width="7.8" height="6.6" rx="3.0" fill="#1e1e1f" transform="rotate(5.9 228.8 621.4)" />
<rect x="245.9" y="620.3" width="7.8" height="6.6" rx="3.0" fill="#1e1e1f" transform="rotate(5.9 249.8 623.6)" />
<rect x="266.9" y="622.6" width="7.8" height="6.6" rx="3.0" fill="#1e1e1f" transform="rotate(5.9 270.8 625.9)" />
<rect x="183.7" y="631.8" width="7.8" height="6.6" rx="3.0" fill="#1e1e1f" transform="rotate(6.3 187.6 635.1)" />
<rect x="204.6" y="634.3" width="7.8" height="6.6" rx="3.0" fill="#1e1e1f" transform="rotate(6.3 208.5 637.6)" />
<rect x="225.6" y="636.7" width="7.8" height="6.6" rx="3.0" fill="#1e1e1f" transform="rotate(6.3 229.5 640.0)" />
<rect x="246.5" y="639.1" width="7.8" height="6.6" rx="3.0" fill="#1e1e1f" transform="rotate(6.3 250.4 642.4)" />
<rect x="267.5" y="641.5" width="7.8" height="6.6" rx="3.0" fill="#1e1e1f" transform="rotate(6.3 271.4 644.8)" />
<rect x="184.4" y="650.1" width="7.8" height="6.6" rx="3.0" fill="#1e1e1f" transform="rotate(6.6 188.3 653.4)" />
<rect x="205.3" y="652.7" width="7.8" height="6.6" rx="3.0" fill="#1e1e1f" transform="rotate(6.6 209.2 656.0)" />
<rect x="226.2" y="655.2" width="7.8" height="6.6" rx="3.0" fill="#1e1e1f" transform="rotate(6.6 230.1 658.5)" />
<rect x="247.2" y="657.8" width="7.8" height="6.6" rx="3.0" fill="#1e1e1f" transform="rotate(6.6 251.1 661.1)" />
<rect x="268.1" y="660.3" width="7.8" height="6.6" rx="3.0" fill="#1e1e1f" transform="rotate(6.6 272.0 663.6)" />
<rect x="185.1" y="668.4" width="7.8" height="6.6" rx="3.0" fill="#1e1e1f" transform="rotate(7.0 189.0 671.7)" />
<rect x="206.0" y="671.1" width="7.8" height="6.6" rx="3.0" fill="#1e1e1f" transform="rotate(7.0 209.9 674.4)" />
<rect x="226.9" y="673.8" width="7.8" height="6.6" rx="3.0" fill="#1e1e1f" transform="rotate(7.0 230.8 677.1)" />
<rect x="247.8" y="676.5" width="7.8" height="6.6" rx="3.0" fill="#1e1e1f" transform="rotate(7.0 251.7 679.8)" />
<rect x="268.7" y="679.1" width="7.8" height="6.6" rx="3.0" fill="#1e1e1f" transform="rotate(7.0 272.6 682.4)" />
<rect x="185.7" y="686.6" width="7.8" height="6.6" rx="3.0" fill="#1e1e1f" transform="rotate(7.3 189.6 689.9)" />
<rect x="206.6" y="689.5" width="7.8" height="6.6" rx="3.0" fill="#1e1e1f" transform="rotate(7.3 210.5 692.8)" />
<rect x="227.5" y="692.3" width="7.8" height="6.6" rx="3.0" fill="#1e1e1f" transform="rotate(7.3 231.4 695.6)" />
<rect x="248.5" y="695.1" width="7.8" height="6.6" rx="3.0" fill="#1e1e1f" transform="rotate(7.3 252.4 698.4)" />
<rect x="269.4" y="697.9" width="7.8" height="6.6" rx="3.0" fill="#1e1e1f" transform="rotate(7.3 273.3 701.2)" />
<rect x="186.4" y="704.8" width="7.8" height="6.6" rx="3.0" fill="#1e1e1f" transform="rotate(7.7 190.3 708.1)" />
<rect x="207.3" y="707.8" width="7.8" height="6.6" rx="3.0" fill="#1e1e1f" transform="rotate(7.7 211.2 711.1)" />
<rect x="228.2" y="710.7" width="7.8" height="6.6" rx="3.0" fill="#1e1e1f" transform="rotate(7.7 232.1 714.0)" />
<rect x="249.1" y="713.7" width="7.8" height="6.6" rx="3.0" fill="#1e1e1f" transform="rotate(7.7 253.0 717.0)" />
<rect x="269.6" y="716.2" width="8.6" height="7.4" rx="3.6" fill="#85878a" transform="rotate(7.7 273.9 719.9)" />
<rect x="187.1" y="723.0" width="7.8" height="6.6" rx="3.0" fill="#1e1e1f" transform="rotate(8.0 191.0 726.3)" />
<rect x="208.0" y="726.1" width="7.8" height="6.6" rx="3.0" fill="#1e1e1f" transform="rotate(8.0 211.9 729.4)" />
<rect x="228.8" y="729.1" width="7.8" height="6.6" rx="3.0" fill="#1e1e1f" transform="rotate(8.0 232.8 732.4)" />
<rect x="249.3" y="731.8" width="8.6" height="7.4" rx="3.6" fill="#85878a" transform="rotate(8.0 253.6 735.5)" />
<rect x="270.2" y="734.9" width="8.6" height="7.4" rx="3.6" fill="#85878a" transform="rotate(8.0 274.5 738.6)" />
<path d="M133.7 70.4 l2.6 -2.6 l2.6 2.6 l-2.6 2.6z" fill="#777a7e"/>
<path d="M134.4 89.7 l2.6 -2.6 l2.6 2.6 l-2.6 2.6z" fill="#777a7e"/>
<path d="M135.1 108.9 l2.6 -2.6 l2.6 2.6 l-2.6 2.6z" fill="#777a7e"/>
<path d="M135.8 128.1 l2.6 -2.6 l2.6 2.6 l-2.6 2.6z" fill="#777a7e"/>
<path d="M136.5 147.3 l2.6 -2.6 l2.6 2.6 l-2.6 2.6z" fill="#777a7e"/>
<path d="M137.1 166.4 l2.6 -2.6 l2.6 2.6 l-2.6 2.6z" fill="#777a7e"/>
<path d="M137.8 185.5 l2.6 -2.6 l2.6 2.6 l-2.6 2.6z" fill="#777a7e"/>
<path d="M138.5 204.5 l2.6 -2.6 l2.6 2.6 l-2.6 2.6z" fill="#777a7e"/>
<path d="M139.2 223.5 l2.6 -2.6 l2.6 2.6 l-2.6 2.6z" fill="#777a7e"/>
<path d="M139.9 242.5 l2.6 -2.6 l2.6 2.6 l-2.6 2.6z" fill="#777a7e"/>
<path d="M140.6 261.4 l2.6 -2.6 l2.6 2.6 l-2.6 2.6z" fill="#777a7e"/>
<path d="M141.3 280.3 l2.6 -2.6 l2.6 2.6 l-2.6 2.6z" fill="#777a7e"/>
<path d="M142.0 299.1 l2.6 -2.6 l2.6 2.6 l-2.6 2.6z" fill="#777a7e"/>
<path d="M142.7 317.9 l2.6 -2.6 l2.6 2.6 l-2.6 2.6z" fill="#777a7e"/>
<path d="M143.3 336.7 l2.6 -2.6 l2.6 2.6 l-2.6 2.6z" fill="#777a7e"/>
<path d="M144.0 355.4 l2.6 -2.6 l2.6 2.6 l-2.6 2.6z" fill="#777a7e"/>
<path d="M144.7 374.1 l2.6 -2.6 l2.6 2.6 l-2.6 2.6z" fill="#777a7e"/>
<path d="M145.4 392.7 l2.6 -2.6 l2.6 2.6 l-2.6 2.6z" fill="#777a7e"/>
<path d="M146.1 411.3 l2.6 -2.6 l2.6 2.6 l-2.6 2.6z" fill="#777a7e"/>
<path d="M146.8 429.9 l2.6 -2.6 l2.6 2.6 l-2.6 2.6z" fill="#777a7e"/>
<path d="M147.5 448.4 l2.6 -2.6 l2.6 2.6 l-2.6 2.6z" fill="#777a7e"/>
<path d="M148.2 466.9 l2.6 -2.6 l2.6 2.6 l-2.6 2.6z" fill="#777a7e"/>
<path d="M148.8 485.3 l2.6 -2.6 l2.6 2.6 l-2.6 2.6z" fill="#777a7e"/>
<path d="M149.5 503.7 l2.6 -2.6 l2.6 2.6 l-2.6 2.6z" fill="#777a7e"/>
<path d="M150.2 522.1 l2.6 -2.6 l2.6 2.6 l-2.6 2.6z" fill="#8f9295"/>
<path d="M150.9 540.4 l2.6 -2.6 l2.6 2.6 l-2.6 2.6z" fill="#8f9295"/>
<path d="M151.6 558.7 l2.6 -2.6 l2.6 2.6 l-2.6 2.6z" fill="#8f9295"/>
<path d="M152.3 576.9 l2.6 -2.6 l2.6 2.6 l-2.6 2.6z" fill="#8f9295"/>
<path d="M153.0 595.1 l2.6 -2.6 l2.6 2.6 l-2.6 2.6z" fill="#8f9295"/>
<path d="M153.7 613.3 l2.6 -2.6 l2.6 2.6 l-2.6 2.6z" fill="#8f9295"/>
<path d="M154.4 631.4 l2.6 -2.6 l2.6 2.6 l-2.6 2.6z" fill="#8f9295"/>
<path d="M155.0 649.5 l2.6 -2.6 l2.6 2.6 l-2.6 2.6z" fill="#8f9295"/>
<path d="M155.7 667.5 l2.6 -2.6 l2.6 2.6 l-2.6 2.6z" fill="#8f9295"/>
<path d="M156.4 685.5 l2.6 -2.6 l2.6 2.6 l-2.6 2.6z" fill="#8f9295"/>
<path d="M157.1 703.5 l2.6 -2.6 l2.6 2.6 l-2.6 2.6z" fill="#8f9295"/>
<path d="M157.8 721.4 l2.6 -2.6 l2.6 2.6 l-2.6 2.6z" fill="#8f9295"/>
<path d="M283.1 60.2 l3 -2.8 l2.4 2.8 l-2.4 2.8z" fill="#808387"/>
<path d="M283.7 80.5 l3 -2.8 l2.4 2.8 l-2.4 2.8z" fill="#808387"/>
<path d="M284.3 100.8 l3 -2.8 l2.4 2.8 l-2.4 2.8z" fill="#808387"/>
<path d="M284.9 121.0 l3 -2.8 l2.4 2.8 l-2.4 2.8z" fill="#808387"/>
<path d="M285.8 141.2 l4.7 -3.1 v6.2z" fill="#f4f4f5" stroke="#f4f4f5" stroke-width="0.6" stroke-linejoin="round"/>
<path d="M286.4 161.4 l4.7 -3.1 v6.2z" fill="#f4f4f5" stroke="#f4f4f5" stroke-width="0.6" stroke-linejoin="round"/>
<path d="M287.0 181.4 l4.7 -3.1 v6.2z" fill="#f4f4f5" stroke="#f4f4f5" stroke-width="0.6" stroke-linejoin="round"/>
<path d="M287.6 201.5 l4.7 -3.1 v6.2z" fill="#f4f4f5" stroke="#f4f4f5" stroke-width="0.6" stroke-linejoin="round"/>
<path d="M288.2 221.5 l4.7 -3.1 v6.2z" fill="#f4f4f5" stroke="#f4f4f5" stroke-width="0.6" stroke-linejoin="round"/>
<path d="M288.8 241.4 l4.7 -3.1 v6.2z" fill="#f4f4f5" stroke="#f4f4f5" stroke-width="0.6" stroke-linejoin="round"/>
<path d="M289.4 261.3 l4.7 -3.1 v6.2z" fill="#f4f4f5" stroke="#f4f4f5" stroke-width="0.6" stroke-linejoin="round"/>
<path d="M289.5 281.2 l3 -2.8 l2.4 2.8 l-2.4 2.8z" fill="#808387"/>
<path d="M290.1 301.0 l3 -2.8 l2.4 2.8 l-2.4 2.8z" fill="#808387"/>
<path d="M291.1 320.7 l4.7 -3.1 v6.2z" fill="#f4f4f5" stroke="#f4f4f5" stroke-width="0.6" stroke-linejoin="round"/>
<path d="M291.7 340.4 l4.7 -3.1 v6.2z" fill="#f4f4f5" stroke="#f4f4f5" stroke-width="0.6" stroke-linejoin="round"/>
<path d="M292.3 360.1 l4.7 -3.1 v6.2z" fill="#f4f4f5" stroke="#f4f4f5" stroke-width="0.6" stroke-linejoin="round"/>
<path d="M292.9 379.7 l4.7 -3.1 v6.2z" fill="#f4f4f5" stroke="#f4f4f5" stroke-width="0.6" stroke-linejoin="round"/>
<path d="M293.5 399.2 l4.7 -3.1 v6.2z" fill="#f4f4f5" stroke="#f4f4f5" stroke-width="0.6" stroke-linejoin="round"/>
<path d="M294.0 418.8 l4.7 -3.1 v6.2z" fill="#f4f4f5" stroke="#f4f4f5" stroke-width="0.6" stroke-linejoin="round"/>
<path d="M294.6 438.2 l4.7 -3.1 v6.2z" fill="#f4f4f5" stroke="#f4f4f5" stroke-width="0.6" stroke-linejoin="round"/>
<path d="M295.2 457.6 l4.7 -3.1 v6.2z" fill="#f4f4f5" stroke="#f4f4f5" stroke-width="0.6" stroke-linejoin="round"/>
<path d="M295.4 477.0 l3 -2.8 l2.4 2.8 l-2.4 2.8z" fill="#808387"/>
<path d="M296.0 496.3 l3 -2.8 l2.4 2.8 l-2.4 2.8z" fill="#808387"/>
<path d="M296.6 515.6 l3 -2.8 l2.4 2.8 l-2.4 2.8z" fill="#808387"/>
<path d="M297.8 534.8 l4.2 -2.7 v5.4z" fill="#242526"/>
<path d="M298.3 554.0 l4.2 -2.7 v5.4z" fill="#242526"/>
<path d="M298.9 573.1 l4.2 -2.7 v5.4z" fill="#242526"/>
<path d="M299.5 592.2 l4.2 -2.7 v5.4z" fill="#242526"/>
<path d="M300.1 611.3 l4.2 -2.7 v5.4z" fill="#242526"/>
<path d="M300.7 630.3 l4.2 -2.7 v5.4z" fill="#242526"/>
<path d="M301.3 649.2 l4.2 -2.7 v5.4z" fill="#242526"/>
<path d="M301.9 668.1 l4.2 -2.7 v5.4z" fill="#242526"/>
<path d="M302.4 686.9 l4.2 -2.7 v5.4z" fill="#242526"/>
<path d="M303.0 705.7 l4.2 -2.7 v5.4z" fill="#242526"/>
<path d="M303.6 724.5 l4.2 -2.7 v5.4z" fill="#9a9c9f"/>
<path d="M304.2 743.2 l4.2 -2.7 v5.4z" fill="#9a9c9f"/>
<polygon points="964.8,611.5 1016.7,570.4 1072.0,528.7 1126.0,531.6 1048.5,609.5 1040.0,611.5" fill="url(#gBoxTop)" />
<path d="M1047.6 609.5 L1133.8 524.5 Q1136.4 521.8 1136.4 525.5 L1131.0 714.8 L1068.2 707.6 L1045.2 734.5 Z" fill="#131313"/>
<path d="M1047.6 609.5 L1060 597.5 L1066 707.8 L1045.2 734.5 Z" fill="#181818"/>
<path d="M961.0 848.2 L962.5 625 Q962.7 609.8 975 609.6 L1038 611.0 Q1048.2 611.4 1048.0 621.5 L1043.6 862.6 Z" fill="url(#gBoxFront)"/>
<path d="M962.4 640 L962.5 625 Q962.7 609.8 975 609.6 L1038 611.0 Q1048.2 611.4 1048.0 621.5 L1047.6 640 Z" fill="url(#gBoxBend)"/>
<polygon points="1045.0,735.0 1068.2,707.8 1070.0,710.2 1045.0,741.0" fill="#4a4a4a" />
<line x1="142.2" y1="38.9" x2="274.3" y2="29.4" stroke="#0d0d0d" stroke-width="2.0" />
<polygon points="133.1,39.5 146.3,42.0 144.0,38.7 145.8,35.1" fill="#0d0d0d" />
<polygon points="283.4,28.8 270.7,33.2 272.5,29.6 270.2,26.3" fill="#0d0d0d" />
<line x1="311.7" y1="36.5" x2="752.7" y2="127.6" stroke="#0d0d0d" stroke-width="2.0" />
<polygon points="302.8,34.7 314.8,40.7 313.5,36.9 316.2,33.9" fill="#0d0d0d" />
<polygon points="761.6,129.4 748.2,130.2 750.9,127.2 749.6,123.4" fill="#0d0d0d" />
<line x1="111.4" y1="61.5" x2="137.2" y2="722.3" stroke="#0d0d0d" stroke-width="2.0" />
<polygon points="111.0,52.4 108.1,65.5 111.4,63.3 115.0,65.3" fill="#0d0d0d" />
<polygon points="137.6,731.4 133.6,718.5 137.2,720.5 140.5,718.3" fill="#0d0d0d" />
<line x1="347.3" y1="748.0" x2="585.7" y2="643.6" stroke="#ffffff" stroke-width="1.6" />
<polygon points="339.0,751.6 352.4,749.7 349.0,747.2 349.5,743.1" fill="#ffffff" />
<polygon points="594.0,640.0 583.5,648.5 584.0,644.4 580.6,641.9" fill="#ffffff" />
<line x1="627.9" y1="620.5" x2="754.5" y2="568.7" stroke="#ffffff" stroke-width="1.6" />
<polygon points="619.5,624.0 632.9,622.4 629.6,619.9 630.2,615.7" fill="#ffffff" />
<polygon points="762.9,565.2 752.2,573.5 752.8,569.3 749.5,566.8" fill="#ffffff" />
<text x="164.3" y="22.8" font-size="27.1" fill="#111111" filter="url(#fGray)" textLength="44.0" lengthAdjust="spacingAndGlyphs">380</text>
<text x="207.1" y="22.8" font-size="27.1" fill="#111111" filter="url(#fGray)" textLength="47.5" lengthAdjust="spacingAndGlyphs">mm</text>
<text x="511.3" y="60.3" font-size="27.1" fill="#111111" filter="url(#fGray)" textLength="58.8" lengthAdjust="spacingAndGlyphs">2090</text>
<text x="569.0" y="60.3" font-size="27.1" fill="#111111" filter="url(#fGray)" textLength="46.8" lengthAdjust="spacingAndGlyphs">mm</text>
<text x="5.9" y="392.0" font-size="27.1" fill="#111111" filter="url(#fGray)" textLength="58.1" lengthAdjust="spacingAndGlyphs">1300</text>
<text x="63.8" y="392.0" font-size="27.1" fill="#111111" filter="url(#fGray)" textLength="47.4" lengthAdjust="spacingAndGlyphs">mm</text>
<text x="485.1" y="715.2" font-size="27.1" fill="#ffffff" filter="url(#fGray)" textLength="63.0" lengthAdjust="spacingAndGlyphs">1000</text>
<text x="548.6" y="715.2" font-size="27.1" fill="#ffffff" filter="url(#fGray)" textLength="42.0" lengthAdjust="spacingAndGlyphs">mm</text>
<text x="710.1" y="613.4" font-size="27.1" fill="#ffffff" filter="url(#fGray)" textLength="62.0" lengthAdjust="spacingAndGlyphs">1000</text>
<text x="772.6" y="613.4" font-size="27.1" fill="#ffffff" filter="url(#fGray)" textLength="42.4" lengthAdjust="spacingAndGlyphs">mm</text>
<g transform="matrix(1.0 0.036 0.03 1.0 173.9 378.2)">
<path d="M46.90 4.41 L43.60 3.23 L40.30 2.35 L36.50 1.49 L32.70 0.72 L29.30 0.25 L26.00 0.26 L23.00 0.57 L20.40 1.37 L18.80 2.82 L17.50 4.57 L14.70 6.97 L11.60 8.48 L10.50 7.82 L9.90 10.44 L5.20 14.91 L3.30 16.58 L1.50 12.25 L0.00 12.00 L0.90 16.47 L2.80 21.20 L4.30 24.45 L7.60 23.33 L13.70 21.91 L16.10 24.02 L17.00 27.79 L16.60 30.10" fill="none" stroke="#f4f4f4" stroke-width="1.25" stroke-linejoin="round" stroke-linecap="round"/>
<circle cx="10.9" cy="16.6" r="0.9" fill="#f4f4f4"/>
<text x="17.8" y="31.3" font-family="'Liberation Sans', sans-serif" font-size="31" font-weight="700" fill="#ffffff" textLength="76.8" lengthAdjust="spacingAndGlyphs">Rhino</text>
<g font-size="6.4" font-weight="700" fill="#ffffff" text-anchor="middle" filter="url(#fGray)">
<text x="45.8" y="12.60" textLength="3.9" lengthAdjust="spacingAndGlyphs">P</text>
<text x="50.8" y="12.47" textLength="3.9" lengthAdjust="spacingAndGlyphs">R</text>
<text x="64.2" y="12.10" textLength="3.9" lengthAdjust="spacingAndGlyphs">D</text>
<text x="71.0" y="11.92" textLength="3.9" lengthAdjust="spacingAndGlyphs">U</text>
<text x="77.8" y="11.74" textLength="3.9" lengthAdjust="spacingAndGlyphs">C</text>
<text x="84.3" y="11.56" textLength="3.9" lengthAdjust="spacingAndGlyphs">T</text>
<text x="90.4" y="11.40" textLength="3.9" lengthAdjust="spacingAndGlyphs">S</text>
</g>
<circle cx="56.9" cy="9.6" r="2.15" fill="#ffffff"/>
</g>
<g transform="matrix(0.812 0.020 0.012 0.729 491.7 351.9)">
<path d="M46.90 4.41 L43.60 3.23 L40.30 2.35 L36.50 1.49 L32.70 0.72 L29.30 0.25 L26.00 0.26 L23.00 0.57 L20.40 1.37 L18.80 2.82 L17.50 4.57 L14.70 6.97 L11.60 8.48 L10.50 7.82 L9.90 10.44 L5.20 14.91 L3.30 16.58 L1.50 12.25 L0.00 12.00 L0.90 16.47 L2.80 21.20 L4.30 24.45 L7.60 23.33 L13.70 21.91 L16.10 24.02 L17.00 27.79 L16.60 30.10" fill="none" stroke="#f4f4f4" stroke-width="1.30" stroke-linejoin="round" stroke-linecap="round"/>
<circle cx="10.9" cy="16.6" r="0.9" fill="#f4f4f4"/>
<text x="17.8" y="31.3" font-family="'Liberation Sans', sans-serif" font-size="31" font-weight="700" fill="#ffffff" textLength="76.8" lengthAdjust="spacingAndGlyphs">Rhino</text>
<g font-size="6.4" font-weight="700" fill="#ffffff" text-anchor="middle" filter="url(#fGray)">
<text x="45.8" y="12.60" textLength="3.9" lengthAdjust="spacingAndGlyphs">P</text>
<text x="50.8" y="12.47" textLength="3.9" lengthAdjust="spacingAndGlyphs">R</text>
<text x="64.2" y="12.10" textLength="3.9" lengthAdjust="spacingAndGlyphs">D</text>
<text x="71.0" y="11.92" textLength="3.9" lengthAdjust="spacingAndGlyphs">U</text>
<text x="77.8" y="11.74" textLength="3.9" lengthAdjust="spacingAndGlyphs">C</text>
<text x="84.3" y="11.56" textLength="3.9" lengthAdjust="spacingAndGlyphs">T</text>
<text x="90.4" y="11.40" textLength="3.9" lengthAdjust="spacingAndGlyphs">S</text>
</g>
<circle cx="56.9" cy="9.6" r="2.15" fill="#ffffff"/>
</g>
<g transform="matrix(-0.67 -0.004 0.0 0.59 746.2 335.6)">
<path d="M46.90 4.41 L43.60 3.23 L40.30 2.35 L36.50 1.49 L32.70 0.72 L29.30 0.25 L26.00 0.26 L23.00 0.57 L20.40 1.37 L18.80 2.82 L17.50 4.57 L14.70 6.97 L11.60 8.48 L10.50 7.82 L9.90 10.44 L5.20 14.91 L3.30 16.58 L1.50 12.25 L0.00 12.00 L0.90 16.47 L2.80 21.20 L4.30 24.45 L7.60 23.33 L13.70 21.91 L16.10 24.02 L17.00 27.79 L16.60 30.10" fill="none" stroke="#f4f4f4" stroke-width="1.40" stroke-linejoin="round" stroke-linecap="round"/>
<circle cx="10.9" cy="16.6" r="0.9" fill="#f4f4f4"/>
<text x="17.8" y="31.3" font-family="'Liberation Sans', sans-serif" font-size="31" font-weight="700" fill="#ffffff" textLength="76.8" lengthAdjust="spacingAndGlyphs">Rhino</text>
<g font-size="6.4" font-weight="700" fill="#ffffff" text-anchor="middle" filter="url(#fGray)">
<text x="45.8" y="12.60" textLength="3.9" lengthAdjust="spacingAndGlyphs">P</text>
<text x="50.8" y="12.47" textLength="3.9" lengthAdjust="spacingAndGlyphs">R</text>
<text x="64.2" y="12.10" textLength="3.9" lengthAdjust="spacingAndGlyphs">D</text>
<text x="71.0" y="11.92" textLength="3.9" lengthAdjust="spacingAndGlyphs">U</text>
<text x="77.8" y="11.74" textLength="3.9" lengthAdjust="spacingAndGlyphs">C</text>
<text x="84.3" y="11.56" textLength="3.9" lengthAdjust="spacingAndGlyphs">T</text>
<text x="90.4" y="11.40" textLength="3.9" lengthAdjust="spacingAndGlyphs">S</text>
</g>
<circle cx="56.9" cy="9.6" r="2.15" fill="#ffffff"/>
</g>
</svg>
</body></html>
